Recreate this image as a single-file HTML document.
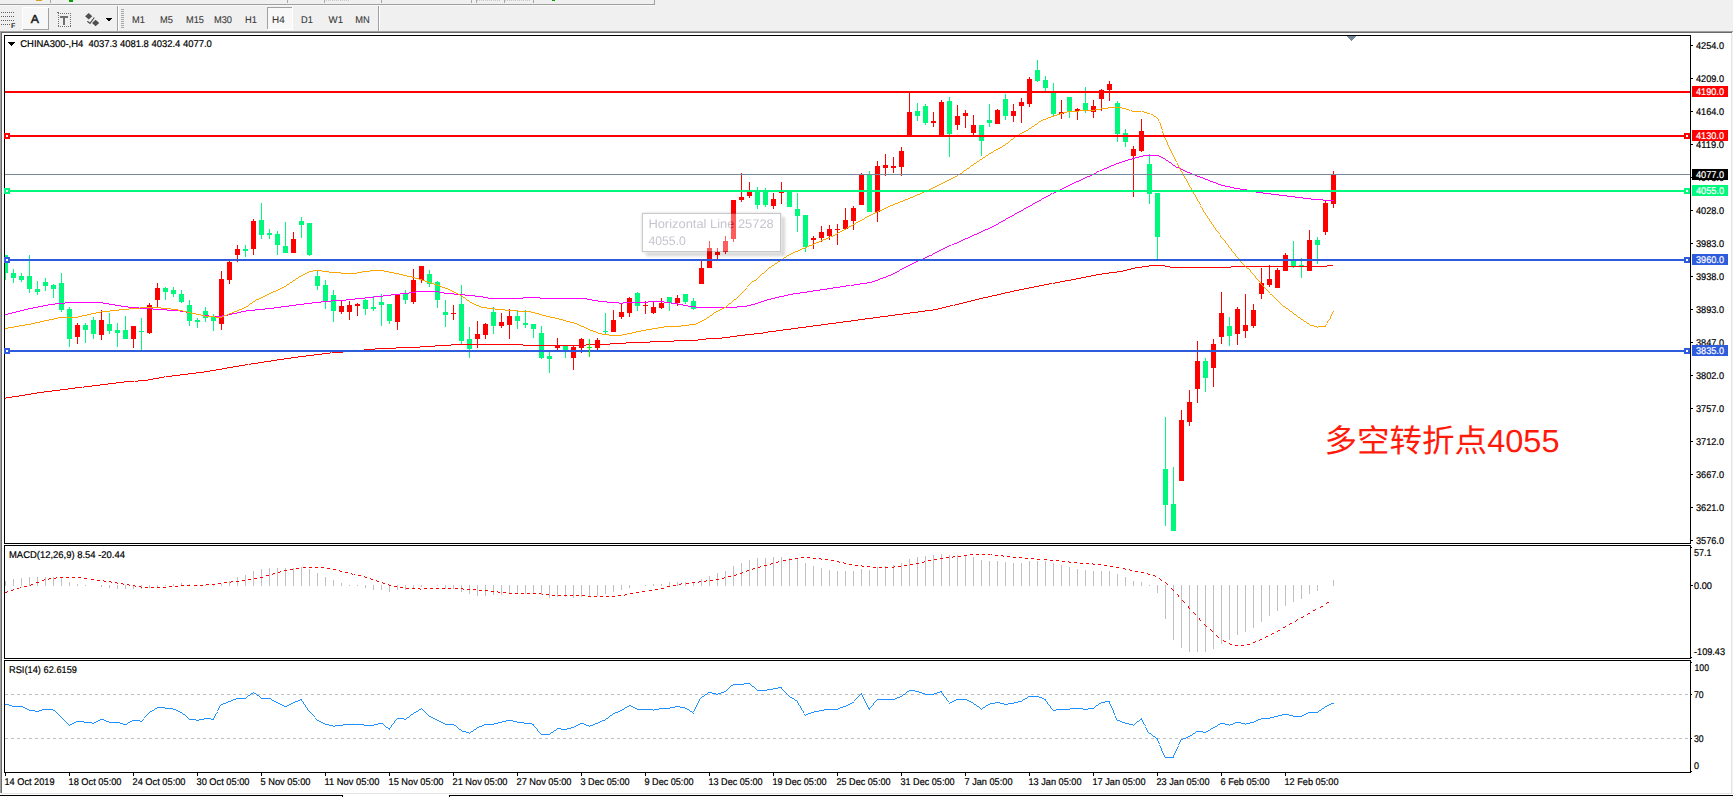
<!DOCTYPE html>
<html><head><meta charset="utf-8"><title>CHINA300-,H4</title>
<style>
html,body{margin:0;padding:0;background:#fff;overflow:hidden}
svg{display:block;font-family:"Liberation Sans","Noto Sans CJK SC",sans-serif;text-rendering:geometricPrecision}
svg rect,svg path,svg polyline,svg line{shape-rendering:crispEdges}
</style></head><body>
<svg width="1733" height="797" viewBox="0 0 1733 797">
<defs><filter id="bl" x="-10%" y="-30%" width="120%" height="160%"><feGaussianBlur stdDeviation="1.8"/></filter><clipPath id="tc"><path d="M630 200h170v70h-170z M642 213v39h139v-39z" clip-rule="evenodd"/></clipPath></defs>
<rect x="0" y="0" width="1733" height="797" fill="#fff"/>
<rect x="0" y="0" width="1733" height="31" fill="#f0f0f0"/>
<rect x="0" y="4" width="655" height="1" fill="#a0a0a0"/>
<rect x="0" y="5" width="655" height="1" fill="#f8f8f8"/>
<rect x="654" y="0" width="1" height="5" fill="#a0a0a0"/>
<rect x="69" y="0" width="4" height="2" fill="#00a000"/>
<rect x="552" y="0" width="3" height="1" fill="#00a000"/>
<rect x="50" y="0" width="1" height="3" fill="#a8a8a8"/>
<rect x="287" y="0" width="1" height="3" fill="#a8a8a8"/>
<rect x="324" y="0" width="1" height="3" fill="#a8a8a8"/>
<rect x="381" y="0" width="1" height="3" fill="#a8a8a8"/>
<rect x="471" y="0" width="1" height="3" fill="#a8a8a8"/>
<rect x="476" y="0" width="1" height="3" fill="#a8a8a8"/>
<rect x="504" y="0" width="1" height="3" fill="#a8a8a8"/>
<rect x="533" y="0" width="1" height="3" fill="#a8a8a8"/>
<rect x="326" y="0" width="1" height="1" fill="#c8c8c8"/>
<rect x="328" y="0" width="1" height="1" fill="#c8c8c8"/>
<rect x="330" y="0" width="1" height="1" fill="#c8c8c8"/>
<rect x="332" y="0" width="1" height="1" fill="#c8c8c8"/>
<rect x="334" y="0" width="1" height="1" fill="#c8c8c8"/>
<rect x="336" y="0" width="1" height="1" fill="#c8c8c8"/>
<rect x="338" y="0" width="1" height="1" fill="#c8c8c8"/>
<rect x="340" y="0" width="1" height="1" fill="#c8c8c8"/>
<rect x="342" y="0" width="1" height="1" fill="#c8c8c8"/>
<rect x="344" y="0" width="1" height="1" fill="#c8c8c8"/>
<rect x="346" y="0" width="1" height="1" fill="#c8c8c8"/>
<rect x="348" y="0" width="1" height="1" fill="#c8c8c8"/>
<rect x="477" y="0" width="1" height="1" fill="#c8c8c8"/>
<rect x="479" y="0" width="1" height="1" fill="#c8c8c8"/>
<rect x="481" y="0" width="1" height="1" fill="#c8c8c8"/>
<rect x="483" y="0" width="1" height="1" fill="#c8c8c8"/>
<rect x="485" y="0" width="1" height="1" fill="#c8c8c8"/>
<rect x="487" y="0" width="1" height="1" fill="#c8c8c8"/>
<rect x="489" y="0" width="1" height="1" fill="#c8c8c8"/>
<rect x="491" y="0" width="1" height="1" fill="#c8c8c8"/>
<rect x="493" y="0" width="1" height="1" fill="#c8c8c8"/>
<rect x="495" y="0" width="1" height="1" fill="#c8c8c8"/>
<rect x="497" y="0" width="1" height="1" fill="#c8c8c8"/>
<rect x="499" y="0" width="1" height="1" fill="#c8c8c8"/>
<rect x="505" y="0" width="1" height="1" fill="#c8c8c8"/>
<rect x="507" y="0" width="1" height="1" fill="#c8c8c8"/>
<rect x="509" y="0" width="1" height="1" fill="#c8c8c8"/>
<rect x="511" y="0" width="1" height="1" fill="#c8c8c8"/>
<rect x="513" y="0" width="1" height="1" fill="#c8c8c8"/>
<rect x="515" y="0" width="1" height="1" fill="#c8c8c8"/>
<rect x="517" y="0" width="1" height="1" fill="#c8c8c8"/>
<rect x="519" y="0" width="1" height="1" fill="#c8c8c8"/>
<rect x="521" y="0" width="1" height="1" fill="#c8c8c8"/>
<rect x="523" y="0" width="1" height="1" fill="#c8c8c8"/>
<rect x="525" y="0" width="1" height="1" fill="#c8c8c8"/>
<rect x="527" y="0" width="1" height="1" fill="#c8c8c8"/>
<rect x="529" y="0" width="1" height="1" fill="#c8c8c8"/>
<rect x="36" y="0" width="6" height="1" fill="#d8a020"/>
<rect x="0" y="31" width="1733" height="1" fill="#a0a0a0"/>
<rect x="1" y="32" width="1731" height="1" fill="#696969"/>
<rect x="0" y="31" width="1" height="762" fill="#a0a0a0"/>
<rect x="1" y="32" width="1" height="761" fill="#696969"/>
<rect x="1731" y="33" width="1" height="761" fill="#e3e3e3"/>
<rect x="2" y="793" width="1730" height="1" fill="#e3e3e3"/>
<rect x="1732" y="32" width="1" height="765" fill="#f4f4f4"/>
<rect x="0" y="795" width="343" height="1" fill="#000"/>
<rect x="342" y="795" width="1" height="2" fill="#000"/>
<rect x="449" y="795" width="1284" height="1" fill="#000"/>
<rect x="449" y="795" width="1" height="2" fill="#000"/>
<rect x="1" y="12" width="1" height="1" fill="#606060"/>
<rect x="3" y="12" width="1" height="1" fill="#606060"/>
<rect x="5" y="12" width="1" height="1" fill="#606060"/>
<rect x="7" y="12" width="1" height="1" fill="#606060"/>
<rect x="9" y="12" width="1" height="1" fill="#606060"/>
<rect x="11" y="12" width="1" height="1" fill="#606060"/>
<rect x="13" y="12" width="1" height="1" fill="#606060"/>
<rect x="1" y="16" width="1" height="1" fill="#606060"/>
<rect x="3" y="16" width="1" height="1" fill="#606060"/>
<rect x="5" y="16" width="1" height="1" fill="#606060"/>
<rect x="7" y="16" width="1" height="1" fill="#606060"/>
<rect x="9" y="16" width="1" height="1" fill="#606060"/>
<rect x="11" y="16" width="1" height="1" fill="#606060"/>
<rect x="13" y="16" width="1" height="1" fill="#606060"/>
<rect x="1" y="20" width="1" height="1" fill="#606060"/>
<rect x="3" y="20" width="1" height="1" fill="#606060"/>
<rect x="5" y="20" width="1" height="1" fill="#606060"/>
<rect x="7" y="20" width="1" height="1" fill="#606060"/>
<rect x="9" y="20" width="1" height="1" fill="#606060"/>
<rect x="11" y="20" width="1" height="1" fill="#606060"/>
<rect x="13" y="20" width="1" height="1" fill="#606060"/>
<rect x="1" y="24" width="1" height="1" fill="#606060"/>
<rect x="3" y="24" width="1" height="1" fill="#606060"/>
<rect x="5" y="24" width="1" height="1" fill="#606060"/>
<rect x="7" y="24" width="1" height="1" fill="#606060"/>
<rect x="9" y="24" width="1" height="1" fill="#606060"/>
<text x="11" y="28" font-size="7" fill="#303030" font-weight="bold">F</text>
<rect x="23" y="8" width="26" height="22" fill="#f7f7f7"/>
<rect x="23" y="29" width="26" height="1" fill="#a0a0a0"/>
<rect x="48" y="8" width="1" height="22" fill="#a0a0a0"/>
<rect x="23" y="7" width="26" height="1" fill="#fff"/>
<rect x="22" y="8" width="1" height="22" fill="#fff"/>
<text x="30.8" y="22.6" font-size="11.5" fill="#1a1a1a" stroke="#1a1a1a" stroke-width="0.45" textLength="8.2" lengthAdjust="spacingAndGlyphs">A</text>
<rect x="58" y="13" width="1" height="1" fill="#707070"/>
<rect x="58" y="26" width="1" height="1" fill="#707070"/>
<rect x="60" y="13" width="1" height="1" fill="#707070"/>
<rect x="60" y="26" width="1" height="1" fill="#707070"/>
<rect x="62" y="13" width="1" height="1" fill="#707070"/>
<rect x="62" y="26" width="1" height="1" fill="#707070"/>
<rect x="64" y="13" width="1" height="1" fill="#707070"/>
<rect x="64" y="26" width="1" height="1" fill="#707070"/>
<rect x="66" y="13" width="1" height="1" fill="#707070"/>
<rect x="66" y="26" width="1" height="1" fill="#707070"/>
<rect x="68" y="13" width="1" height="1" fill="#707070"/>
<rect x="68" y="26" width="1" height="1" fill="#707070"/>
<rect x="70" y="13" width="1" height="1" fill="#707070"/>
<rect x="70" y="26" width="1" height="1" fill="#707070"/>
<rect x="58" y="13" width="1" height="1" fill="#707070"/>
<rect x="70" y="13" width="1" height="1" fill="#707070"/>
<rect x="58" y="15" width="1" height="1" fill="#707070"/>
<rect x="70" y="15" width="1" height="1" fill="#707070"/>
<rect x="58" y="17" width="1" height="1" fill="#707070"/>
<rect x="70" y="17" width="1" height="1" fill="#707070"/>
<rect x="58" y="19" width="1" height="1" fill="#707070"/>
<rect x="70" y="19" width="1" height="1" fill="#707070"/>
<rect x="58" y="21" width="1" height="1" fill="#707070"/>
<rect x="70" y="21" width="1" height="1" fill="#707070"/>
<rect x="58" y="23" width="1" height="1" fill="#707070"/>
<rect x="70" y="23" width="1" height="1" fill="#707070"/>
<rect x="58" y="25" width="1" height="1" fill="#707070"/>
<rect x="70" y="25" width="1" height="1" fill="#707070"/>
<rect x="57" y="12" width="2" height="1" fill="#707070"/>
<rect x="60" y="16" width="8" height="2" fill="#707070"/>
<rect x="63" y="16" width="2" height="9" fill="#707070"/>
<path d="M88.7 13 L92.3 16.2 L88.7 19.4 L85.1 16.2Z M95.6 19.8 L99.2 23 L95.6 26.2 L92 23Z" fill="#505050" style="shape-rendering:auto"/>
<path d="M87.3 21.3 L90 23.3 L94.3 17.5" fill="none" stroke="#505050" stroke-width="1.2" style="shape-rendering:auto"/>
<path d="M106 18 L112 18 L109 21.5Z" fill="#000"/>
<rect x="117" y="6" width="1" height="25" fill="#a0a0a0"/>
<rect x="118" y="6" width="1" height="25" fill="#fff"/>
<rect x="121" y="9" width="3" height="1" fill="#a8a8a8"/>
<rect x="121" y="11" width="3" height="1" fill="#a8a8a8"/>
<rect x="121" y="13" width="3" height="1" fill="#a8a8a8"/>
<rect x="121" y="15" width="3" height="1" fill="#a8a8a8"/>
<rect x="121" y="17" width="3" height="1" fill="#a8a8a8"/>
<rect x="121" y="19" width="3" height="1" fill="#a8a8a8"/>
<rect x="121" y="21" width="3" height="1" fill="#a8a8a8"/>
<rect x="121" y="23" width="3" height="1" fill="#a8a8a8"/>
<rect x="121" y="25" width="3" height="1" fill="#a8a8a8"/>
<rect x="121" y="27" width="3" height="1" fill="#a8a8a8"/>
<text x="132.0" y="23" font-size="9.8" fill="#383838" stroke="#383838" stroke-width="0.1" textLength="12.9" lengthAdjust="spacingAndGlyphs">M1</text>
<text x="160.1" y="23" font-size="9.8" fill="#383838" stroke="#383838" stroke-width="0.1" textLength="12.9" lengthAdjust="spacingAndGlyphs">M5</text>
<text x="186.0" y="23" font-size="9.8" fill="#383838" stroke="#383838" stroke-width="0.1" textLength="17.9" lengthAdjust="spacingAndGlyphs">M15</text>
<text x="213.9" y="23" font-size="9.8" fill="#383838" stroke="#383838" stroke-width="0.1" textLength="18.1" lengthAdjust="spacingAndGlyphs">M30</text>
<text x="245.1" y="23" font-size="9.8" fill="#383838" stroke="#383838" stroke-width="0.1" textLength="11.9" lengthAdjust="spacingAndGlyphs">H1</text>
<rect x="267" y="7" width="26" height="23" fill="#f8f8f8"/>
<rect x="267" y="7" width="26" height="1" fill="#a0a0a0"/>
<rect x="267" y="7" width="1" height="23" fill="#a0a0a0"/>
<rect x="267" y="29" width="26" height="1" fill="#fff"/>
<rect x="292" y="7" width="1" height="23" fill="#fff"/>
<text x="272.1" y="23" font-size="9.8" fill="#383838" stroke="#383838" stroke-width="0.1" textLength="12.6" lengthAdjust="spacingAndGlyphs">H4</text>
<text x="301.1" y="23" font-size="9.8" fill="#383838" stroke="#383838" stroke-width="0.1" textLength="11.8" lengthAdjust="spacingAndGlyphs">D1</text>
<text x="328.6" y="23" font-size="9.8" fill="#383838" stroke="#383838" stroke-width="0.1" textLength="14.5" lengthAdjust="spacingAndGlyphs">W1</text>
<text x="355.3" y="23" font-size="9.8" fill="#383838" stroke="#383838" stroke-width="0.1" textLength="14.5" lengthAdjust="spacingAndGlyphs">MN</text>
<rect x="378" y="6" width="1" height="25" fill="#a0a0a0"/>
<rect x="379" y="6" width="1" height="25" fill="#fff"/>
<rect x="4" y="35" width="1687" height="1" fill="#000"/>
<rect x="4" y="543" width="1687" height="1" fill="#000"/>
<rect x="4" y="35" width="1" height="509" fill="#000"/>
<rect x="1690" y="35" width="1" height="509" fill="#000"/>
<rect x="4" y="545" width="1687" height="1" fill="#000"/>
<rect x="4" y="658" width="1687" height="1" fill="#000"/>
<rect x="4" y="545" width="1" height="114" fill="#000"/>
<rect x="1690" y="545" width="1" height="114" fill="#000"/>
<rect x="4" y="660" width="1687" height="1" fill="#000"/>
<rect x="4" y="772" width="1687" height="1" fill="#000"/>
<rect x="4" y="660" width="1" height="113" fill="#000"/>
<rect x="1690" y="660" width="1" height="113" fill="#000"/>
<path d="M5 255h1v25h-1zM5 255h3v18h-3zM13 269h1v14h-1zM11 273h5v5h-5zM21 273h1v9h-1zM19 276h5v4h-5zM29 255h1v38h-1zM27 276h5v13h-5zM37 281h1v14h-1zM35 289h5v3h-5zM45 278h1v13h-1zM43 282h5v4h-5zM53 284h1v14h-1zM51 285h5v4h-5zM61 273h1v39h-1zM59 283h5v27h-5zM69 307h1v40h-1zM67 309h5v30h-5zM85 323h1v20h-1zM83 325h5v5h-5zM93 317h1v22h-1zM91 320h5v14h-5zM109 313h1v21h-1zM107 324h5v7h-5zM117 323h1v24h-1zM115 330h5v3h-5zM125 316h1v23h-1zM123 330h5v9h-5zM141 318h1v32h-1zM139 331h5v1h-5zM165 287h1v13h-1zM163 288h5v4h-5zM173 287h1v10h-1zM171 290h5v4h-5zM181 290h1v13h-1zM179 294h5v8h-5zM189 300h1v26h-1zM187 305h5v16h-5zM197 318h1v10h-1zM195 320h5v2h-5zM205 307h1v15h-1zM203 311h5v7h-5zM213 314h1v17h-1zM211 317h5v4h-5zM245 245h1v12h-1zM243 249h5v2h-5zM261 203h1v36h-1zM259 220h5v15h-5zM269 229h1v10h-1zM267 233h5v2h-5zM277 231h1v24h-1zM275 234h5v11h-5zM285 222h1v31h-1zM283 246h5v7h-5zM301 217h1v21h-1zM299 221h5v4h-5zM309 223h1v33h-1zM307 223h5v32h-5zM317 271h1v19h-1zM315 276h5v10h-5zM325 280h1v29h-1zM323 285h5v16h-5zM333 290h1v32h-1zM331 295h5v16h-5zM365 299h1v16h-1zM363 300h5v9h-5zM373 296h1v15h-1zM371 307h5v2h-5zM381 294h1v32h-1zM379 302h5v3h-5zM389 304h1v20h-1zM387 304h5v17h-5zM405 290h1v14h-1zM403 294h5v6h-5zM429 270h1v17h-1zM427 274h5v10h-5zM437 281h1v27h-1zM435 282h5v18h-5zM445 300h1v27h-1zM443 312h5v3h-5zM461 285h1v60h-1zM459 304h5v37h-5zM469 327h1v31h-1zM467 339h5v10h-5zM493 307h1v27h-1zM491 312h5v14h-5zM517 311h1v18h-1zM515 316h5v5h-5zM525 310h1v18h-1zM523 323h5v2h-5zM533 324h1v14h-1zM531 324h5v5h-5zM541 326h1v33h-1zM539 333h5v25h-5zM549 352h1v21h-1zM547 356h5v3h-5zM565 346h1v12h-1zM563 346h5v4h-5zM605 313h1v21h-1zM603 331h5v1h-5zM637 292h1v19h-1zM635 293h5v13h-5zM669 297h1v14h-1zM667 297h5v6h-5zM685 294h1v10h-1zM683 294h5v8h-5zM693 298h1v12h-1zM691 301h5v8h-5zM757 187h1v22h-1zM755 192h5v13h-5zM765 188h1v19h-1zM763 192h5v13h-5zM789 190h1v17h-1zM787 190h5v17h-5zM797 193h1v39h-1zM795 209h5v7h-5zM805 215h1v37h-1zM803 215h5v32h-5zM869 171h1v41h-1zM867 175h5v37h-5zM917 103h1v18h-1zM915 111h5v5h-5zM925 104h1v21h-1zM923 106h5v17h-5zM949 97h1v60h-1zM947 101h5v33h-5zM981 125h1v31h-1zM979 125h5v16h-5zM989 104h1v23h-1zM987 120h5v3h-5zM1005 94h1v26h-1zM1003 99h5v17h-5zM1037 60h1v22h-1zM1035 70h5v11h-5zM1045 76h1v15h-1zM1043 80h5v8h-5zM1053 83h1v33h-1zM1051 93h5v21h-5zM1069 97h1v21h-1zM1067 97h5v14h-5zM1085 87h1v26h-1zM1083 103h5v8h-5zM1117 101h1v41h-1zM1115 103h5v31h-5zM1125 129h1v18h-1zM1123 133h5v9h-5zM1149 154h1v50h-1zM1147 164h5v30h-5zM1157 193h1v66h-1zM1155 193h5v44h-5zM1165 417h1v109h-1zM1163 469h5v36h-5zM1173 467h1v64h-1zM1171 504h5v27h-5zM1205 358h1v34h-1zM1203 361h5v17h-5zM1229 317h1v29h-1zM1227 326h5v10h-5zM1293 241h1v27h-1zM1291 261h5v5h-5zM1301 258h1v20h-1zM1299 265h5v1h-5zM1317 237h1v27h-1zM1315 240h5v5h-5z" fill="#00F97C"/>
<path d="M77 323h1v21h-1zM75 325h5v12h-5zM101 310h1v30h-1zM99 320h5v15h-5zM133 326h1v22h-1zM131 326h5v13h-5zM149 303h1v31h-1zM147 305h5v28h-5zM157 283h1v25h-1zM155 288h5v12h-5zM221 271h1v59h-1zM219 279h5v45h-5zM229 261h1v23h-1zM227 262h5v18h-5zM237 245h1v17h-1zM235 249h5v6h-5zM253 219h1v36h-1zM251 221h5v28h-5zM293 232h1v21h-1zM291 239h5v14h-5zM341 301h1v13h-1zM339 306h5v6h-5zM349 301h1v19h-1zM347 305h5v7h-5zM357 303h1v13h-1zM355 304h5v2h-5zM397 295h1v35h-1zM395 295h5v27h-5zM413 269h1v35h-1zM411 280h5v22h-5zM421 266h1v17h-1zM419 266h5v14h-5zM453 305h1v15h-1zM451 313h5v1h-5zM477 321h1v27h-1zM475 334h5v5h-5zM485 323h1v16h-1zM483 324h5v11h-5zM501 313h1v15h-1zM499 322h5v4h-5zM509 309h1v30h-1zM507 316h5v9h-5zM557 338h1v12h-1zM555 345h5v3h-5zM573 346h1v24h-1zM571 347h5v11h-5zM581 338h1v15h-1zM579 339h5v9h-5zM597 338h1v12h-1zM595 340h5v8h-5zM613 310h1v22h-1zM611 320h5v12h-5zM621 304h1v15h-1zM619 312h5v5h-5zM629 297h1v20h-1zM627 298h5v15h-5zM645 301h1v13h-1zM643 305h5v1h-5zM653 302h1v12h-1zM651 307h5v6h-5zM661 298h1v11h-1zM659 303h5v5h-5zM677 295h1v11h-1zM675 298h5v5h-5zM701 261h1v23h-1zM699 268h5v16h-5zM709 241h1v27h-1zM707 248h5v20h-5zM717 248h1v11h-1zM715 252h5v3h-5zM725 236h1v18h-1zM723 241h5v11h-5zM733 200h1v42h-1zM731 200h5v39h-5zM741 173h1v29h-1zM739 197h5v3h-5zM749 182h1v16h-1zM747 191h5v5h-5zM773 193h1v16h-1zM771 199h5v7h-5zM781 182h1v22h-1zM779 192h5v1h-5zM813 236h1v13h-1zM811 238h5v2h-5zM821 226h1v16h-1zM819 232h5v6h-5zM829 225h1v15h-1zM827 229h5v7h-5zM837 224h1v21h-1zM835 229h5v1h-5zM845 208h1v22h-1zM843 220h5v9h-5zM853 206h1v24h-1zM851 208h5v13h-5zM861 173h1v32h-1zM859 174h5v31h-5zM877 161h1v61h-1zM875 166h5v46h-5zM885 154h1v22h-1zM883 165h5v3h-5zM893 157h1v16h-1zM891 166h5v2h-5zM901 147h1v29h-1zM899 151h5v16h-5zM909 92h1v44h-1zM907 112h5v24h-5zM933 112h1v15h-1zM931 121h5v2h-5zM941 100h1v36h-1zM939 102h5v34h-5zM957 105h1v25h-1zM955 116h5v9h-5zM965 110h1v18h-1zM963 113h5v3h-5zM973 115h1v20h-1zM971 125h5v8h-5zM997 109h1v15h-1zM995 110h5v14h-5zM1013 104h1v18h-1zM1011 111h5v5h-5zM1021 98h1v25h-1zM1019 102h5v4h-5zM1029 77h1v30h-1zM1027 79h5v25h-5zM1061 100h1v19h-1zM1059 112h5v2h-5zM1077 108h1v12h-1zM1075 109h5v2h-5zM1093 100h1v18h-1zM1091 106h5v6h-5zM1101 89h1v22h-1zM1099 90h5v9h-5zM1109 81h1v20h-1zM1107 84h5v6h-5zM1133 146h1v51h-1zM1131 149h5v7h-5zM1141 119h1v33h-1zM1139 131h5v20h-5zM1181 410h1v71h-1zM1179 420h5v61h-5zM1189 390h1v36h-1zM1187 402h5v20h-5zM1197 341h1v62h-1zM1195 361h5v28h-5zM1213 339h1v48h-1zM1211 344h5v24h-5zM1221 292h1v52h-1zM1219 313h5v24h-5zM1237 307h1v38h-1zM1235 309h5v25h-5zM1245 294h1v44h-1zM1243 325h5v6h-5zM1253 304h1v24h-1zM1251 310h5v16h-5zM1261 268h1v31h-1zM1259 283h5v11h-5zM1269 265h1v22h-1zM1267 279h5v6h-5zM1277 268h1v20h-1zM1275 270h5v18h-5zM1285 253h1v18h-1zM1283 255h5v16h-5zM1309 230h1v41h-1zM1307 240h5v31h-5zM1325 201h1v34h-1zM1323 203h5v29h-5zM1333 171h1v37h-1zM1331 174h5v30h-5z" fill="#FF0000"/>
<path d="M5 398h1v1h-1zM6 397h6v1h-6zM12 396h7v1h-7zM19 395h6v1h-6zM25 394h6v1h-6zM31 393h6v1h-6zM37 392h7v1h-7zM44 391h8v1h-8zM52 390h8v1h-8zM60 389h8v1h-8zM68 388h7v1h-7zM75 387h7v1h-7zM83 387h1v1h-1zM84 386h8v1h-8zM92 385h8v1h-8zM100 384h8v1h-8zM108 383h8v1h-8zM116 382h8v1h-8zM124 381h10v1h-10zM135 381h3v1h-3zM138 380h10v1h-10zM148 379h5v1h-5zM153 378h6v1h-6zM159 377h5v1h-5zM164 376h1v1h-1zM166 376h6v1h-6zM172 375h8v1h-8zM180 374h8v1h-8zM188 373h8v1h-8zM196 372h8v1h-8zM204 371h6v1h-6zM210 370h6v1h-6zM216 369h6v1h-6zM222 368h5v1h-5zM227 367h6v1h-6zM233 366h6v1h-6zM239 365h6v1h-6zM245 364h3v1h-3zM249 364h2v1h-2zM251 363h7v1h-7zM258 362h6v1h-6zM264 361h7v1h-7zM271 360h6v1h-6zM277 359h7v1h-7zM284 358h7v1h-7zM291 357h7v1h-7zM298 356h8v1h-8zM306 355h8v1h-8zM314 354h8v1h-8zM322 353h8v1h-8zM330 352h1v1h-1zM332 352h11v1h-11zM343 351h11v1h-11zM354 350h10v1h-10zM364 349h11v1h-11zM375 348h21v1h-21zM396 347h24v1h-24zM420 346h15v1h-15zM435 345h16v1h-16zM523 345h63v1h-63zM451 344h72v1h-72zM586 344h24v1h-24zM610 343h16v1h-16zM626 342h24v1h-24zM650 341h24v1h-24zM674 340h24v1h-24zM698 339h8v1h-8zM706 338h16v1h-16zM722 337h8v1h-8zM730 336h7v1h-7zM737 335h8v1h-8zM745 334h9v1h-9zM754 333h9v1h-9zM763 332h5v1h-5zM768 331h8v1h-8zM776 330h7v1h-7zM783 329h8v1h-8zM791 328h7v1h-7zM798 327h8v1h-8zM806 326h7v1h-7zM813 325h8v1h-8zM821 324h7v1h-7zM828 323h8v1h-8zM836 322h7v1h-7zM843 321h8v1h-8zM851 320h7v1h-7zM858 319h7v1h-7zM865 318h8v1h-8zM873 317h7v1h-7zM880 316h8v1h-8zM888 315h7v1h-7zM895 314h8v1h-8zM903 313h7v1h-7zM910 312h8v1h-8zM918 311h7v1h-7zM925 310h8v1h-8zM933 309h5v1h-5zM938 308h4v1h-4zM942 307h4v1h-4zM946 306h4v1h-4zM950 305h3v1h-3zM954 305h1v1h-1zM955 304h4v1h-4zM959 303h4v1h-4zM963 302h4v1h-4zM967 301h4v1h-4zM971 300h4v1h-4zM975 299h4v1h-4zM979 298h4v1h-4zM983 297h5v1h-5zM988 296h4v1h-4zM992 295h5v1h-5zM997 294h4v1h-4zM1001 293h4v1h-4zM1005 292h5v1h-5zM1010 291h4v1h-4zM1014 290h5v1h-5zM1019 289h5v1h-5zM1024 288h5v1h-5zM1029 287h5v1h-5zM1034 286h5v1h-5zM1039 285h5v1h-5zM1044 284h5v1h-5zM1049 283h3v1h-3zM1053 283h2v1h-2zM1055 282h5v1h-5zM1060 281h5v1h-5zM1065 280h6v1h-6zM1071 279h5v1h-5zM1076 278h5v1h-5zM1081 277h5v1h-5zM1086 276h5v1h-5zM1091 275h5v1h-5zM1096 274h6v1h-6zM1102 273h7v1h-7zM1109 272h8v1h-8zM1117 271h6v1h-6zM1123 270h4v1h-4zM1127 269h4v1h-4zM1131 268h4v1h-4zM1135 267h7v1h-7zM1170 267h61v1h-61zM1142 266h7v1h-7zM1165 266h5v1h-5zM1231 266h96v1h-96zM1149 265h16v1h-16zM1327 265h6v1h-6z" fill="#FF0000"/>
<path d="M5 314h3v1h-3zM196 314h5v1h-5zM228 314h4v1h-4zM8 313h4v1h-4zM191 313h5v1h-5zM232 313h5v1h-5zM12 312h4v1h-4zM186 312h5v1h-5zM237 312h4v1h-4zM16 311h4v1h-4zM180 311h6v1h-6zM241 311h5v1h-5zM20 310h4v1h-4zM167 310h13v1h-13zM246 310h9v1h-9zM24 309h4v1h-4zM153 309h14v1h-14zM255 309h10v1h-10zM28 308h5v1h-5zM139 308h10v1h-10zM150 308h3v1h-3zM265 308h9v1h-9zM33 307h5v1h-5zM128 307h11v1h-11zM274 307h7v1h-7zM696 307h41v1h-41zM38 306h5v1h-5zM121 306h7v1h-7zM281 306h8v1h-8zM688 306h8v1h-8zM737 306h10v1h-10zM43 305h5v1h-5zM115 305h6v1h-6zM289 305h7v1h-7zM683 305h5v1h-5zM747 305h4v1h-4zM48 304h7v1h-7zM109 304h6v1h-6zM296 304h8v1h-8zM678 304h5v1h-5zM751 304h4v1h-4zM55 303h10v1h-10zM103 303h6v1h-6zM304 303h8v1h-8zM619 303h4v1h-4zM671 303h7v1h-7zM755 303h3v1h-3zM65 302h38v1h-38zM312 302h9v1h-9zM607 302h12v1h-12zM623 302h25v1h-25zM664 302h7v1h-7zM758 302h3v1h-3zM201 315h8v1h-8zM222 315h6v1h-6zM209 316h13v1h-13zM321 301h10v1h-10zM598 301h9v1h-9zM648 301h16v1h-16zM761 301h3v1h-3zM331 300h15v1h-15zM592 300h6v1h-6zM764 300h3v1h-3zM346 299h9v1h-9zM587 299h5v1h-5zM767 299h4v1h-4zM355 298h10v1h-10zM488 298h35v1h-35zM540 298h47v1h-47zM771 298h4v1h-4zM365 297h9v1h-9zM483 297h5v1h-5zM523 297h17v1h-17zM775 297h4v1h-4zM374 296h9v1h-9zM475 296h8v1h-8zM779 296h5v1h-5zM383 295h8v1h-8zM465 295h10v1h-10zM784 295h4v1h-4zM391 294h9v1h-9zM454 294h11v1h-11zM788 294h5v1h-5zM400 293h9v1h-9zM444 293h10v1h-10zM793 293h7v1h-7zM409 292h7v1h-7zM439 292h5v1h-5zM800 292h7v1h-7zM416 291h23v1h-23zM807 291h6v1h-6zM813 290h7v1h-7zM820 289h7v1h-7zM827 288h6v1h-6zM833 287h7v1h-7zM840 286h6v1h-6zM846 285h4v1h-4zM851 285h3v1h-3zM854 284h6v1h-6zM860 283h7v1h-7zM867 282h5v1h-5zM872 281h3v1h-3zM875 280h3v1h-3zM878 279h2v1h-2zM880 278h3v1h-3zM883 277h3v1h-3zM886 276h2v1h-2zM888 275h3v1h-3zM891 274h2v1h-2zM893 273h2v1h-2zM895 272h2v1h-2zM897 271h2v1h-2zM899 270h1v1h-1zM900 269h2v1h-2zM902 268h2v1h-2zM904 267h2v1h-2zM906 266h2v1h-2zM908 265h2v1h-2zM910 264h2v1h-2zM912 263h2v1h-2zM914 262h2v1h-2zM916 261h2v1h-2zM918 260h3v1h-3zM921 259h2v1h-2zM923 258h2v1h-2zM925 257h2v1h-2zM927 256h2v1h-2zM929 255h3v1h-3zM932 254h1v1h-1zM933 253h2v1h-2zM935 252h2v1h-2zM937 251h2v1h-2zM939 250h2v1h-2zM941 249h2v1h-2zM943 248h2v1h-2zM945 247h2v1h-2zM947 246h2v1h-2zM949 245h2v1h-2zM952 244h2v1h-2zM954 243h3v1h-3zM957 242h2v1h-2zM959 241h2v1h-2zM961 240h2v1h-2zM963 239h2v1h-2zM965 238h3v1h-3zM968 237h2v1h-2zM970 236h2v1h-2zM972 235h2v1h-2zM974 234h3v1h-3zM977 233h2v1h-2zM979 232h2v1h-2zM981 231h2v1h-2zM983 230h2v1h-2zM985 229h3v1h-3zM988 228h2v1h-2zM990 227h2v1h-2zM992 226h2v1h-2zM994 225h2v1h-2zM996 224h2v1h-2zM998 223h1v1h-1zM999 222h2v1h-2zM1001 221h2v1h-2zM1003 220h2v1h-2zM1005 219h1v1h-1zM1006 218h2v1h-2zM1008 217h2v1h-2zM1010 216h2v1h-2zM1012 215h2v1h-2zM1014 214h1v1h-1zM1015 213h2v1h-2zM1017 212h2v1h-2zM1019 211h2v1h-2zM1021 210h2v1h-2zM1023 209h1v1h-1zM1024 208h2v1h-2zM1026 207h2v1h-2zM1028 206h2v1h-2zM1030 205h2v1h-2zM1032 204h1v1h-1zM1033 203h2v1h-2zM1035 202h2v1h-2zM1037 201h2v1h-2zM1039 200h2v1h-2zM1323 200h11v1h-11zM1041 199h1v1h-1zM1311 199h12v1h-12zM1042 198h2v1h-2zM1303 198h8v1h-8zM1044 197h2v1h-2zM1295 197h8v1h-8zM1046 196h2v1h-2zM1287 196h8v1h-8zM1048 195h2v1h-2zM1279 195h8v1h-8zM1050 194h1v1h-1zM1271 194h8v1h-8zM1051 193h1v1h-1zM1053 193h1v1h-1zM1263 193h8v1h-8zM1054 192h2v1h-2zM1256 192h7v1h-7zM1056 191h2v1h-2zM1252 191h4v1h-4zM1058 190h2v1h-2zM1247 190h5v1h-5zM1060 189h2v1h-2zM1240 189h7v1h-7zM1062 188h2v1h-2zM1234 188h6v1h-6zM1064 187h2v1h-2zM1230 187h4v1h-4zM1066 186h2v1h-2zM1225 186h5v1h-5zM1068 185h2v1h-2zM1221 185h4v1h-4zM1070 184h2v1h-2zM1218 184h3v1h-3zM1072 183h2v1h-2zM1216 183h2v1h-2zM1074 182h2v1h-2zM1213 182h3v1h-3zM1076 181h3v1h-3zM1210 181h3v1h-3zM1079 180h2v1h-2zM1208 180h2v1h-2zM1081 179h2v1h-2zM1205 179h3v1h-3zM1083 178h2v1h-2zM1203 178h2v1h-2zM1085 177h2v1h-2zM1200 177h3v1h-3zM1087 176h3v1h-3zM1197 176h3v1h-3zM1090 175h2v1h-2zM1195 175h2v1h-2zM1092 174h2v1h-2zM1192 174h3v1h-3zM1094 173h2v1h-2zM1190 173h2v1h-2zM1096 172h1v1h-1zM1187 172h3v1h-3zM1097 171h2v1h-2zM1185 171h2v1h-2zM1100 170h2v1h-2zM1183 170h2v1h-2zM1102 169h2v1h-2zM1181 169h2v1h-2zM1104 168h3v1h-3zM1179 168h2v1h-2zM1107 167h2v1h-2zM1176 167h3v1h-3zM1109 166h2v1h-2zM1175 166h1v1h-1zM1111 165h3v1h-3zM1173 165h2v1h-2zM1114 164h2v1h-2zM1172 164h1v1h-1zM1116 163h3v1h-3zM1171 163h1v1h-1zM1119 162h3v1h-3zM1169 162h2v1h-2zM1122 161h3v1h-3zM1168 161h1v1h-1zM1125 160h3v1h-3zM1166 160h2v1h-2zM1128 159h4v1h-4zM1165 159h1v1h-1zM1132 158h3v1h-3zM1163 158h2v1h-2zM1135 157h4v1h-4zM1161 157h2v1h-2zM1139 156h4v1h-4zM1159 156h2v1h-2zM1143 155h16v1h-16z" fill="#FF00FF"/>
<path d="M5 328h3v1h-3zM586 328h2v1h-2zM652 328h6v1h-6zM8 327h6v1h-6zM584 327h2v1h-2zM658 327h6v1h-6zM1317 327h1v1h-1zM14 326h5v1h-5zM581 326h3v1h-3zM664 326h17v1h-17zM1314 326h3v1h-3zM1318 326h8v1h-8zM19 325h6v1h-6zM579 325h2v1h-2zM681 325h8v1h-8zM1310 325h4v1h-4zM1325 325h1v1h-1zM25 324h6v1h-6zM577 324h2v1h-2zM689 324h7v1h-7zM1309 324h1v1h-1zM1326 324h1v1h-1zM31 323h4v1h-4zM574 323h3v1h-3zM696 323h2v1h-2zM1307 323h2v1h-2zM35 322h5v1h-5zM570 322h4v1h-4zM698 322h2v1h-2zM1306 322h1v1h-1zM1327 322h1v1h-1zM40 321h4v1h-4zM566 321h4v1h-4zM700 321h2v1h-2zM1304 321h2v1h-2zM1327 321h1v1h-1zM44 320h5v1h-5zM563 320h3v1h-3zM702 320h2v1h-2zM1303 320h1v1h-1zM1328 320h1v1h-1zM49 319h5v1h-5zM559 319h4v1h-4zM704 319h2v1h-2zM1301 319h2v1h-2zM1329 319h1v1h-1zM54 318h4v1h-4zM555 318h4v1h-4zM706 318h1v1h-1zM1300 318h1v1h-1zM1330 318h1v1h-1zM58 317h20v1h-20zM215 317h7v1h-7zM550 317h5v1h-5zM707 317h2v1h-2zM1298 317h2v1h-2zM1330 317h1v1h-1zM78 316h4v1h-4zM205 316h10v1h-10zM222 316h2v1h-2zM546 316h4v1h-4zM709 316h1v1h-1zM1297 316h1v1h-1zM1330 316h1v1h-1zM82 315h5v1h-5zM201 315h4v1h-4zM224 315h3v1h-3zM542 315h4v1h-4zM710 315h2v1h-2zM1296 315h1v1h-1zM1331 315h1v1h-1zM87 314h4v1h-4zM196 314h5v1h-5zM227 314h2v1h-2zM539 314h3v1h-3zM712 314h1v1h-1zM1294 314h2v1h-2zM1331 314h1v1h-1zM91 313h5v1h-5zM191 313h5v1h-5zM229 313h3v1h-3zM535 313h4v1h-4zM713 313h1v1h-1zM1293 313h1v1h-1zM1332 313h1v1h-1zM96 312h5v1h-5zM187 312h4v1h-4zM232 312h2v1h-2zM531 312h4v1h-4zM714 312h2v1h-2zM1292 312h1v1h-1zM1332 312h1v1h-1zM101 311h9v1h-9zM183 311h4v1h-4zM234 311h3v1h-3zM518 311h13v1h-13zM716 311h2v1h-2zM1290 311h2v1h-2zM1333 311h1v1h-1zM110 310h9v1h-9zM178 310h5v1h-5zM237 310h2v1h-2zM505 310h13v1h-13zM718 310h2v1h-2zM1289 310h1v1h-1zM119 309h10v1h-10zM171 309h7v1h-7zM239 309h3v1h-3zM495 309h10v1h-10zM720 309h2v1h-2zM1288 309h1v1h-1zM129 308h11v1h-11zM161 308h10v1h-10zM242 308h2v1h-2zM487 308h8v1h-8zM722 308h2v1h-2zM1286 308h2v1h-2zM140 307h21v1h-21zM244 307h2v1h-2zM481 307h6v1h-6zM724 307h2v1h-2zM1285 307h1v1h-1zM246 306h2v1h-2zM479 306h2v1h-2zM726 306h1v1h-1zM1283 306h2v1h-2zM248 305h1v1h-1zM476 305h3v1h-3zM727 305h1v1h-1zM1282 305h1v1h-1zM249 304h1v1h-1zM474 304h2v1h-2zM728 304h1v1h-1zM1281 304h1v1h-1zM250 303h2v1h-2zM472 303h2v1h-2zM729 303h2v1h-2zM1280 303h1v1h-1zM252 302h1v1h-1zM470 302h2v1h-2zM731 302h1v1h-1zM1279 302h1v1h-1zM253 301h2v1h-2zM469 301h1v1h-1zM732 301h1v1h-1zM1278 301h1v1h-1zM255 300h1v1h-1zM467 300h2v1h-2zM733 300h1v1h-1zM1277 300h1v1h-1zM256 299h3v1h-3zM466 299h1v1h-1zM734 299h2v1h-2zM1276 299h1v1h-1zM259 298h2v1h-2zM465 298h1v1h-1zM736 298h1v1h-1zM1275 298h1v1h-1zM261 297h2v1h-2zM463 297h2v1h-2zM737 297h1v1h-1zM1274 297h1v1h-1zM263 296h2v1h-2zM462 296h1v1h-1zM738 296h1v1h-1zM1273 296h1v1h-1zM265 295h2v1h-2zM460 295h2v1h-2zM739 295h1v1h-1zM1272 295h1v1h-1zM267 294h2v1h-2zM458 294h2v1h-2zM740 294h1v1h-1zM1270 294h2v1h-2zM269 293h2v1h-2zM456 293h2v1h-2zM741 293h1v1h-1zM271 292h2v1h-2zM454 292h2v1h-2zM742 292h1v1h-1zM1269 292h1v1h-1zM273 291h3v1h-3zM452 291h2v1h-2zM743 291h1v1h-1zM1268 291h1v1h-1zM276 290h2v1h-2zM450 290h2v1h-2zM744 290h1v1h-1zM1267 290h1v1h-1zM278 289h2v1h-2zM448 289h2v1h-2zM745 289h1v1h-1zM1266 289h1v1h-1zM280 288h2v1h-2zM445 288h3v1h-3zM746 288h1v1h-1zM1265 288h1v1h-1zM282 287h2v1h-2zM442 287h3v1h-3zM1264 287h1v1h-1zM284 286h2v1h-2zM440 286h2v1h-2zM747 286h1v1h-1zM1263 286h1v1h-1zM286 285h1v1h-1zM437 285h3v1h-3zM748 285h1v1h-1zM1262 285h1v1h-1zM287 284h2v1h-2zM434 284h3v1h-3zM749 284h1v1h-1zM1261 284h1v1h-1zM289 283h1v1h-1zM431 283h3v1h-3zM750 283h1v1h-1zM1260 283h1v1h-1zM290 282h2v1h-2zM428 282h3v1h-3zM751 282h1v1h-1zM1260 282h1v1h-1zM292 281h1v1h-1zM425 281h3v1h-3zM752 281h2v1h-2zM1259 281h1v1h-1zM293 280h2v1h-2zM422 280h3v1h-3zM754 280h2v1h-2zM1258 280h1v1h-1zM295 279h1v1h-1zM419 279h3v1h-3zM756 279h1v1h-1zM1257 279h1v1h-1zM296 278h2v1h-2zM415 278h4v1h-4zM757 278h1v1h-1zM1256 278h1v1h-1zM298 277h1v1h-1zM412 277h3v1h-3zM758 277h1v1h-1zM1255 277h1v1h-1zM299 276h2v1h-2zM407 276h5v1h-5zM759 276h1v1h-1zM1255 276h1v1h-1zM301 275h2v1h-2zM403 275h4v1h-4zM760 275h1v1h-1zM1254 275h1v1h-1zM303 274h2v1h-2zM399 274h4v1h-4zM761 274h1v1h-1zM1253 274h1v1h-1zM305 273h2v1h-2zM341 273h16v1h-16zM394 273h5v1h-5zM762 273h2v1h-2zM1252 273h1v1h-1zM307 272h2v1h-2zM329 272h12v1h-12zM357 272h5v1h-5zM389 272h5v1h-5zM764 272h1v1h-1zM1251 272h1v1h-1zM309 271h4v1h-4zM322 271h7v1h-7zM362 271h8v1h-8zM384 271h5v1h-5zM765 271h1v1h-1zM1250 271h1v1h-1zM313 270h9v1h-9zM370 270h14v1h-14zM766 270h1v1h-1zM1250 270h1v1h-1zM588 329h2v1h-2zM646 329h6v1h-6zM590 330h3v1h-3zM641 330h5v1h-5zM593 331h3v1h-3zM636 331h5v1h-5zM596 332h2v1h-2zM632 332h4v1h-4zM598 333h4v1h-4zM627 333h5v1h-5zM602 334h7v1h-7zM622 334h5v1h-5zM609 335h13v1h-13zM767 269h1v1h-1zM1249 269h1v1h-1zM768 268h1v1h-1zM1247 268h2v1h-2zM769 267h2v1h-2zM1246 267h1v1h-1zM771 266h1v1h-1zM1245 266h1v1h-1zM772 265h2v1h-2zM1244 265h1v1h-1zM774 264h1v1h-1zM1243 264h1v1h-1zM775 263h2v1h-2zM1242 263h1v1h-1zM777 262h1v1h-1zM1241 262h1v1h-1zM778 261h2v1h-2zM1240 261h1v1h-1zM780 260h1v1h-1zM1240 260h1v1h-1zM781 259h2v1h-2zM1239 259h1v1h-1zM783 258h1v1h-1zM1238 258h1v1h-1zM784 257h2v1h-2zM1237 257h1v1h-1zM786 256h1v1h-1zM1236 256h1v1h-1zM787 255h2v1h-2zM1235 255h1v1h-1zM789 254h2v1h-2zM1235 254h1v1h-1zM791 253h2v1h-2zM1234 253h1v1h-1zM793 252h2v1h-2zM1233 252h1v1h-1zM795 251h3v1h-3zM1232 251h1v1h-1zM798 250h2v1h-2zM1231 250h1v1h-1zM800 249h2v1h-2zM1231 249h1v1h-1zM802 248h3v1h-3zM1230 248h1v1h-1zM805 247h2v1h-2zM1229 247h1v1h-1zM807 246h2v1h-2zM1228 246h1v1h-1zM809 245h3v1h-3zM1228 245h1v1h-1zM812 244h2v1h-2zM1227 244h1v1h-1zM814 243h2v1h-2zM1226 243h1v1h-1zM816 242h3v1h-3zM1225 242h1v1h-1zM819 241h2v1h-2zM1225 241h1v1h-1zM821 240h2v1h-2zM1224 240h1v1h-1zM823 239h3v1h-3zM1223 239h1v1h-1zM826 238h2v1h-2zM1222 238h1v1h-1zM828 237h2v1h-2zM1221 237h1v1h-1zM831 236h2v1h-2zM1220 236h1v1h-1zM833 235h2v1h-2zM1220 235h1v1h-1zM835 234h2v1h-2zM837 233h1v1h-1zM1219 233h1v1h-1zM838 232h2v1h-2zM1218 232h1v1h-1zM840 231h2v1h-2zM1217 231h1v1h-1zM842 230h2v1h-2zM1216 230h1v1h-1zM844 229h2v1h-2zM1215 229h1v1h-1zM846 228h1v1h-1zM1215 228h1v1h-1zM847 227h2v1h-2zM1214 227h1v1h-1zM849 226h2v1h-2zM1213 226h1v1h-1zM851 225h2v1h-2zM1213 225h1v1h-1zM853 224h2v1h-2zM1212 224h1v1h-1zM855 223h1v1h-1zM1211 223h1v1h-1zM856 222h2v1h-2zM1211 222h1v1h-1zM858 221h2v1h-2zM1210 221h1v1h-1zM860 220h2v1h-2zM1209 220h1v1h-1zM862 219h2v1h-2zM1209 219h1v1h-1zM864 218h1v1h-1zM1208 218h1v1h-1zM865 217h2v1h-2zM1207 217h1v1h-1zM867 216h2v1h-2zM1207 216h1v1h-1zM869 215h2v1h-2zM1206 215h1v1h-1zM871 214h2v1h-2zM1205 214h1v1h-1zM873 213h2v1h-2zM1205 213h1v1h-1zM875 212h2v1h-2zM1204 212h1v1h-1zM877 211h2v1h-2zM1203 211h1v1h-1zM879 210h3v1h-3zM1203 210h1v1h-1zM882 209h2v1h-2zM1202 209h1v1h-1zM884 208h2v1h-2zM1202 208h1v1h-1zM886 207h2v1h-2zM1201 207h1v1h-1zM888 206h2v1h-2zM1200 206h1v1h-1zM890 205h3v1h-3zM893 204h2v1h-2zM1200 204h1v1h-1zM895 203h3v1h-3zM1199 203h1v1h-1zM898 202h2v1h-2zM1199 202h1v1h-1zM900 201h3v1h-3zM1198 201h1v1h-1zM903 200h2v1h-2zM1197 200h1v1h-1zM905 199h3v1h-3zM1197 199h1v1h-1zM908 198h2v1h-2zM1196 198h1v1h-1zM910 197h3v1h-3zM1196 197h1v1h-1zM913 196h2v1h-2zM1195 196h1v1h-1zM915 195h2v1h-2zM1195 195h1v1h-1zM917 194h3v1h-3zM1194 194h1v1h-1zM920 193h2v1h-2zM1193 193h1v1h-1zM922 192h2v1h-2zM1193 192h1v1h-1zM924 191h3v1h-3zM1192 191h1v1h-1zM927 190h2v1h-2zM1192 190h1v1h-1zM929 189h2v1h-2zM1191 189h1v1h-1zM931 188h2v1h-2zM1191 188h1v1h-1zM933 187h2v1h-2zM1190 187h1v1h-1zM935 186h2v1h-2zM1189 186h1v1h-1zM937 185h2v1h-2zM1189 185h1v1h-1zM939 184h2v1h-2zM1188 184h1v1h-1zM941 183h2v1h-2zM1188 183h1v1h-1zM943 182h2v1h-2zM1187 182h1v1h-1zM945 181h2v1h-2zM1187 181h1v1h-1zM947 180h2v1h-2zM1186 180h1v1h-1zM949 179h2v1h-2zM1186 179h1v1h-1zM951 178h2v1h-2zM1185 178h1v1h-1zM953 177h2v1h-2zM1184 177h1v1h-1zM955 176h2v1h-2zM1184 176h1v1h-1zM957 175h1v1h-1zM1183 175h1v1h-1zM958 174h2v1h-2zM1183 174h1v1h-1zM960 173h2v1h-2zM1182 173h1v1h-1zM962 172h1v1h-1zM1182 172h1v1h-1zM963 171h1v1h-1zM1181 171h1v1h-1zM964 170h2v1h-2zM1180 170h1v1h-1zM966 169h1v1h-1zM1180 169h1v1h-1zM967 168h2v1h-2zM1179 168h1v1h-1zM969 167h1v1h-1zM1179 167h1v1h-1zM970 166h1v1h-1zM1178 166h1v1h-1zM971 165h2v1h-2zM1178 165h1v1h-1zM973 164h1v1h-1zM1177 164h1v1h-1zM974 163h2v1h-2zM1177 163h1v1h-1zM976 162h1v1h-1zM977 161h2v1h-2zM1176 161h1v1h-1zM979 160h1v1h-1zM1175 160h1v1h-1zM980 159h2v1h-2zM1175 159h1v1h-1zM982 158h1v1h-1zM1174 158h1v1h-1zM983 157h2v1h-2zM1174 157h1v1h-1zM985 156h1v1h-1zM1173 156h1v1h-1zM986 155h2v1h-2zM1173 155h1v1h-1zM988 154h1v1h-1zM1172 154h1v1h-1zM989 153h2v1h-2zM1172 153h1v1h-1zM991 152h2v1h-2zM1171 152h1v1h-1zM993 151h1v1h-1zM1171 151h1v1h-1zM994 150h2v1h-2zM1170 150h1v1h-1zM996 149h2v1h-2zM1170 149h1v1h-1zM998 148h2v1h-2zM1169 148h1v1h-1zM1000 147h2v1h-2zM1169 147h1v1h-1zM1002 146h1v1h-1zM1168 146h1v1h-1zM1003 145h2v1h-2zM1168 145h1v1h-1zM1005 144h1v1h-1zM1167 144h1v1h-1zM1006 143h2v1h-2zM1167 143h1v1h-1zM1008 142h1v1h-1zM1167 142h1v1h-1zM1009 141h1v1h-1zM1166 141h1v1h-1zM1010 140h1v1h-1zM1166 140h1v1h-1zM1011 139h2v1h-2zM1165 139h1v1h-1zM1013 138h1v1h-1zM1165 138h1v1h-1zM1014 137h1v1h-1zM1164 137h1v1h-1zM1015 136h2v1h-2zM1164 136h1v1h-1zM1017 135h2v1h-2zM1164 135h1v1h-1zM1019 134h1v1h-1zM1163 134h1v1h-1zM1020 133h2v1h-2zM1163 133h1v1h-1zM1022 132h2v1h-2zM1162 132h1v1h-1zM1024 131h2v1h-2zM1162 131h1v1h-1zM1026 130h2v1h-2zM1028 129h1v1h-1zM1162 129h1v1h-1zM1029 128h2v1h-2zM1161 128h1v1h-1zM1031 127h1v1h-1zM1161 127h1v1h-1zM1032 126h2v1h-2zM1161 126h1v1h-1zM1034 125h1v1h-1zM1160 125h1v1h-1zM1035 124h2v1h-2zM1160 124h1v1h-1zM1037 123h1v1h-1zM1160 123h1v1h-1zM1038 122h1v1h-1zM1159 122h1v1h-1zM1039 121h2v1h-2zM1041 120h2v1h-2zM1158 120h1v1h-1zM1043 119h3v1h-3zM1158 119h1v1h-1zM1046 118h2v1h-2zM1157 118h1v1h-1zM1048 117h3v1h-3zM1156 117h1v1h-1zM1051 116h3v1h-3zM1154 116h2v1h-2zM1054 115h3v1h-3zM1153 115h1v1h-1zM1057 114h3v1h-3zM1151 114h2v1h-2zM1060 113h3v1h-3zM1147 113h3v1h-3zM1063 112h4v1h-4zM1144 112h3v1h-3zM1067 111h12v1h-12zM1132 111h9v1h-9zM1142 111h2v1h-2zM1079 110h16v1h-16zM1129 110h1v1h-1zM1131 110h1v1h-1zM1095 109h6v1h-6zM1126 109h3v1h-3zM1101 108h7v1h-7zM1122 108h4v1h-4zM1108 107h14v1h-14z" fill="#FFA500"/>
<rect x="5" y="174" width="1685" height="1" fill="#778899"/>
<rect x="5" y="91" width="1685" height="2" fill="#FF0000"/>
<rect x="5" y="135" width="1685" height="2" fill="#FF0000"/>
<rect x="4" y="133" width="6" height="6" fill="#FF0000"/>
<rect x="6" y="135" width="2" height="2" fill="#fff"/>
<rect x="1684" y="133" width="6" height="6" fill="#FF0000"/>
<rect x="1686" y="135" width="2" height="2" fill="#fff"/>
<rect x="5" y="190" width="1685" height="2" fill="#00F97C"/>
<rect x="4" y="188" width="6" height="6" fill="#00F97C"/>
<rect x="6" y="190" width="2" height="2" fill="#fff"/>
<rect x="1684" y="188" width="6" height="6" fill="#00F97C"/>
<rect x="1686" y="190" width="2" height="2" fill="#fff"/>
<rect x="5" y="259" width="1685" height="2" fill="#2F5BDD"/>
<rect x="4" y="257" width="6" height="6" fill="#2F5BDD"/>
<rect x="6" y="259" width="2" height="2" fill="#fff"/>
<rect x="1684" y="257" width="6" height="6" fill="#2F5BDD"/>
<rect x="1686" y="259" width="2" height="2" fill="#fff"/>
<rect x="5" y="350" width="1685" height="2" fill="#2F5BDD"/>
<rect x="4" y="348" width="6" height="6" fill="#2F5BDD"/>
<rect x="6" y="350" width="2" height="2" fill="#fff"/>
<rect x="1684" y="348" width="6" height="6" fill="#2F5BDD"/>
<rect x="1686" y="350" width="2" height="2" fill="#fff"/>
<rect x="589" y="339" width="1" height="18" fill="#00FF00"/>
<rect x="587" y="347" width="5" height="1" fill="#00FF00"/>
<path d="M5 581h1v5h-1zM13 579h1v7h-1zM21 578h1v8h-1zM29 577h1v9h-1zM37 577h1v9h-1zM45 577h1v9h-1zM53 577h1v9h-1zM61 578h1v8h-1zM69 582h1v4h-1zM77 584h1v2h-1zM85 585h1v1h-1zM101 585h1v2h-1zM109 585h1v3h-1zM117 585h1v4h-1zM125 585h1v4h-1zM133 585h1v4h-1zM141 585h1v4h-1zM149 585h1v3h-1zM157 585h1v3h-1zM165 585h1v1h-1zM173 584h1v2h-1zM181 583h1v3h-1zM189 584h1v2h-1zM197 585h1v1h-1zM205 585h1v1h-1zM213 585h1v1h-1zM221 584h1v2h-1zM229 581h1v5h-1zM237 577h1v9h-1zM245 575h1v11h-1zM253 571h1v15h-1zM261 569h1v17h-1zM269 568h1v18h-1zM277 568h1v18h-1zM285 568h1v18h-1zM293 568h1v18h-1zM301 567h1v19h-1zM309 569h1v17h-1zM317 573h1v13h-1zM325 577h1v9h-1zM333 580h1v6h-1zM341 583h1v3h-1zM349 585h1v1h-1zM357 585h1v1h-1zM365 585h1v3h-1zM373 585h1v5h-1zM381 585h1v5h-1zM389 585h1v7h-1zM397 585h1v5h-1zM405 585h1v5h-1zM413 585h1v3h-1zM421 585h1v2h-1zM437 585h1v1h-1zM445 585h1v4h-1zM453 585h1v4h-1zM461 585h1v7h-1zM469 585h1v9h-1zM477 585h1v11h-1zM485 585h1v11h-1zM493 585h1v10h-1zM501 585h1v10h-1zM509 585h1v9h-1zM517 585h1v9h-1zM525 585h1v9h-1zM533 585h1v9h-1zM541 585h1v10h-1zM549 585h1v13h-1zM557 585h1v12h-1zM565 585h1v12h-1zM573 585h1v13h-1zM581 585h1v12h-1zM589 585h1v12h-1zM597 585h1v11h-1zM605 585h1v9h-1zM613 585h1v7h-1zM621 585h1v5h-1zM629 585h1v3h-1zM645 585h1v1h-1zM653 584h1v2h-1zM661 584h1v2h-1zM669 582h1v4h-1zM677 582h1v4h-1zM685 582h1v4h-1zM693 582h1v4h-1zM701 579h1v7h-1zM709 576h1v10h-1zM717 573h1v13h-1zM725 571h1v15h-1zM733 566h1v20h-1zM741 563h1v23h-1zM749 560h1v26h-1zM757 558h1v28h-1zM765 558h1v28h-1zM773 557h1v29h-1zM781 557h1v29h-1zM789 558h1v28h-1zM797 559h1v27h-1zM805 563h1v23h-1zM813 566h1v20h-1zM821 568h1v18h-1zM829 570h1v16h-1zM837 571h1v15h-1zM845 571h1v15h-1zM853 571h1v15h-1zM861 569h1v17h-1zM869 570h1v16h-1zM877 567h1v19h-1zM885 566h1v20h-1zM893 565h1v21h-1zM901 563h1v23h-1zM909 559h1v27h-1zM917 557h1v29h-1zM925 556h1v30h-1zM933 555h1v31h-1zM941 554h1v32h-1zM949 555h1v31h-1zM957 555h1v31h-1zM965 556h1v30h-1zM973 557h1v29h-1zM981 560h1v26h-1zM989 561h1v25h-1zM997 561h1v25h-1zM1005 562h1v24h-1zM1013 563h1v23h-1zM1021 563h1v23h-1zM1029 561h1v25h-1zM1037 561h1v25h-1zM1045 561h1v25h-1zM1053 563h1v23h-1zM1061 565h1v21h-1zM1069 567h1v19h-1zM1077 569h1v17h-1zM1085 570h1v16h-1zM1093 571h1v15h-1zM1101 571h1v15h-1zM1109 571h1v15h-1zM1117 574h1v12h-1zM1125 577h1v9h-1zM1133 581h1v5h-1zM1141 582h1v4h-1zM1149 585h1v1h-1zM1157 585h1v8h-1zM1165 585h1v34h-1zM1173 585h1v55h-1zM1181 585h1v63h-1zM1189 585h1v67h-1zM1197 585h1v67h-1zM1205 585h1v67h-1zM1213 585h1v64h-1zM1221 585h1v59h-1zM1229 585h1v55h-1zM1237 585h1v50h-1zM1245 585h1v47h-1zM1253 585h1v43h-1zM1261 585h1v37h-1zM1269 585h1v31h-1zM1277 585h1v26h-1zM1285 585h1v21h-1zM1293 585h1v17h-1zM1301 585h1v14h-1zM1309 585h1v9h-1zM1317 585h1v6h-1zM1333 580h1v6h-1z" fill="#c0c0c0"/>
<path d="M5 592h2v1h-2zM498 592h2v1h-2zM503 592h3v1h-3zM636 592h3v1h-3zM7 591h1v1h-1zM491 591h3v1h-3zM497 591h1v1h-1zM642 591h3v1h-3zM11 590h2v1h-2zM479 590h3v1h-3zM485 590h3v1h-3zM649 590h3v1h-3zM1173 590h1v1h-1zM13 589h1v1h-1zM420 589h1v1h-1zM463 589h1v1h-1zM467 589h3v1h-3zM473 589h3v1h-3zM655 589h3v1h-3zM1172 589h1v1h-1zM17 588h2v1h-2zM406 588h3v1h-3zM412 588h3v1h-3zM418 588h2v1h-2zM424 588h3v1h-3zM430 588h3v1h-3zM436 588h3v1h-3zM442 588h3v1h-3zM448 588h3v1h-3zM455 588h3v1h-3zM461 588h2v1h-2zM661 588h3v1h-3zM1171 588h1v1h-1zM20 587h1v1h-1zM141 587h1v1h-1zM145 587h3v1h-3zM151 587h3v1h-3zM157 587h3v1h-3zM163 587h3v1h-3zM400 587h3v1h-3zM24 586h3v1h-3zM135 586h1v1h-1zM139 586h2v1h-2zM169 586h3v1h-3zM175 586h3v1h-3zM394 586h3v1h-3zM667 586h3v1h-3zM30 585h1v1h-1zM129 585h1v1h-1zM133 585h2v1h-2zM181 585h3v1h-3zM187 585h3v1h-3zM194 585h3v1h-3zM200 585h3v1h-3zM389 585h2v1h-2zM673 585h3v1h-3zM31 584h2v1h-2zM123 584h1v1h-1zM127 584h2v1h-2zM206 584h3v1h-3zM212 584h3v1h-3zM388 584h1v1h-1zM679 584h2v1h-2zM1167 584h1v1h-1zM36 582h3v1h-3zM111 582h1v1h-1zM115 582h2v1h-2zM224 582h3v1h-3zM230 582h1v1h-1zM382 582h1v1h-1zM692 582h3v1h-3zM698 582h1v1h-1zM1165 582h1v1h-1zM42 580h2v1h-2zM97 580h3v1h-3zM103 580h1v1h-1zM242 580h3v1h-3zM376 580h1v1h-1zM706 580h1v1h-1zM710 580h3v1h-3zM1161 580h1v1h-1zM44 579h1v1h-1zM48 579h1v1h-1zM91 579h3v1h-3zM248 579h3v1h-3zM371 579h2v1h-2zM716 579h3v1h-3zM1160 579h1v1h-1zM49 578h2v1h-2zM54 578h2v1h-2zM84 578h3v1h-3zM254 578h3v1h-3zM370 578h1v1h-1zM722 578h2v1h-2zM1159 578h1v1h-1zM56 577h1v1h-1zM60 577h3v1h-3zM66 577h3v1h-3zM72 577h3v1h-3zM78 577h3v1h-3zM260 577h3v1h-3zM365 577h2v1h-2zM724 577h1v1h-1zM104 581h2v1h-2zM109 581h2v1h-2zM231 581h2v1h-2zM236 581h3v1h-3zM377 581h2v1h-2zM699 581h2v1h-2zM704 581h2v1h-2zM117 583h1v1h-1zM121 583h2v1h-2zM218 583h3v1h-3zM383 583h2v1h-2zM681 583h1v1h-1zM686 583h3v1h-3zM1166 583h1v1h-1zM266 575h3v1h-3zM358 575h3v1h-3zM734 575h2v1h-2zM1153 575h2v1h-2zM272 574h1v1h-1zM352 574h1v1h-1zM354 574h1v1h-1zM736 574h1v1h-1zM1148 574h2v1h-2zM273 573h2v1h-2zM351 573h1v1h-1zM740 573h2v1h-2zM1147 573h1v1h-1zM278 572h2v1h-2zM345 572h3v1h-3zM742 572h1v1h-1zM1141 572h3v1h-3zM280 571h1v1h-1zM340 571h2v1h-2zM746 571h1v1h-1zM1135 571h3v1h-3zM284 570h3v1h-3zM339 570h1v1h-1zM747 570h2v1h-2zM1130 570h2v1h-2zM290 569h3v1h-3zM333 569h3v1h-3zM752 569h1v1h-1zM1125 569h1v1h-1zM1129 569h1v1h-1zM296 568h3v1h-3zM327 568h3v1h-3zM753 568h2v1h-2zM1123 568h2v1h-2zM303 567h3v1h-3zM309 567h3v1h-3zM315 567h3v1h-3zM321 567h3v1h-3zM758 567h2v1h-2zM873 567h3v1h-3zM879 567h3v1h-3zM885 567h3v1h-3zM892 567h2v1h-2zM1116 567h3v1h-3zM364 576h1v1h-1zM728 576h3v1h-3zM1155 576h1v1h-1zM509 593h3v1h-3zM515 593h3v1h-3zM521 593h3v1h-3zM527 593h3v1h-3zM533 593h3v1h-3zM539 593h2v1h-2zM630 593h3v1h-3zM542 594h1v1h-1zM546 594h3v1h-3zM625 594h2v1h-2zM1177 594h1v1h-1zM552 595h3v1h-3zM558 595h3v1h-3zM564 595h3v1h-3zM570 595h3v1h-3zM576 595h3v1h-3zM582 595h3v1h-3zM618 595h3v1h-3zM624 595h1v1h-1zM1178 595h1v1h-1zM588 596h3v1h-3zM594 596h3v1h-3zM600 596h3v1h-3zM606 596h3v1h-3zM612 596h3v1h-3zM1178 596h1v1h-1zM760 566h1v1h-1zM862 566h2v1h-2zM867 566h3v1h-3zM894 566h1v1h-1zM898 566h3v1h-3zM1110 566h3v1h-3zM764 565h3v1h-3zM855 565h3v1h-3zM861 565h1v1h-1zM904 565h3v1h-3zM1104 565h3v1h-3zM770 564h1v1h-1zM849 564h3v1h-3zM910 564h3v1h-3zM1093 564h2v1h-2zM1098 564h3v1h-3zM771 563h2v1h-2zM844 563h2v1h-2zM916 563h3v1h-3zM1080 563h3v1h-3zM1086 563h3v1h-3zM1092 563h1v1h-1zM776 562h2v1h-2zM839 562h1v1h-1zM843 562h1v1h-1zM922 562h2v1h-2zM1069 562h2v1h-2zM1074 562h3v1h-3zM778 561h1v1h-1zM837 561h2v1h-2zM924 561h1v1h-1zM1062 561h3v1h-3zM1068 561h1v1h-1zM783 560h3v1h-3zM831 560h3v1h-3zM928 560h3v1h-3zM1050 560h3v1h-3zM1056 560h3v1h-3zM789 559h3v1h-3zM821 559h1v1h-1zM825 559h3v1h-3zM934 559h3v1h-3zM1037 559h3v1h-3zM1044 559h3v1h-3zM795 558h3v1h-3zM813 558h3v1h-3zM819 558h2v1h-2zM940 558h3v1h-3zM1025 558h3v1h-3zM1031 558h3v1h-3zM801 557h3v1h-3zM807 557h3v1h-3zM946 557h3v1h-3zM952 557h1v1h-1zM1013 557h3v1h-3zM1019 557h3v1h-3zM953 556h2v1h-2zM958 556h3v1h-3zM1003 556h1v1h-1zM1007 556h3v1h-3zM964 555h3v1h-3zM995 555h3v1h-3zM1001 555h2v1h-2zM970 554h3v1h-3zM976 554h3v1h-3zM982 554h3v1h-3zM988 554h2v1h-2zM991 554h1v1h-1zM1182 600h1v1h-1zM1183 601h1v1h-1zM1184 602h1v1h-1zM1327 602h2v1h-2zM1188 606h1v1h-1zM1321 606h2v1h-2zM1188 607h1v1h-1zM1320 607h1v1h-1zM1189 608h1v1h-1zM1193 612h1v1h-1zM1194 613h1v1h-1zM1308 613h2v1h-2zM1195 614h1v1h-1zM1307 614h1v1h-1zM1199 618h1v1h-1zM1199 619h1v1h-1zM1297 619h1v1h-1zM1200 620h1v1h-1zM1296 620h1v1h-1zM1204 624h1v1h-1zM1289 624h1v1h-1zM1205 625h1v1h-1zM1206 626h1v1h-1zM1285 626h1v1h-1zM1210 629h1v1h-1zM1211 630h1v1h-1zM1278 630h2v1h-2zM1212 631h1v1h-1zM1277 631h1v1h-1zM1216 635h1v1h-1zM1217 636h1v1h-1zM1266 636h2v1h-2zM1218 637h1v1h-1zM1265 637h1v1h-1zM1223 640h1v1h-1zM1259 640h1v1h-1zM1224 641h2v1h-2zM1255 641h1v1h-1zM1229 643h1v1h-1zM1230 644h2v1h-2zM1247 644h3v1h-3zM1235 645h3v1h-3zM1241 645h3v1h-3zM1253 642h2v1h-2zM1260 639h2v1h-2zM1271 634h1v1h-1zM1272 633h2v1h-2zM1283 627h2v1h-2zM1290 623h2v1h-2zM1295 621h1v1h-1zM1301 617h2v1h-2zM1303 616h1v1h-1zM1313 610h2v1h-2zM1315 609h1v1h-1zM1326 603h1v1h-1z" fill="#FF0000"/>
<line x1="5" y1="694.5" x2="1690" y2="694.5" stroke="#c0c0c0" stroke-width="1" stroke-dasharray="3 3"/>
<line x1="5" y1="738.5" x2="1690" y2="738.5" stroke="#c0c0c0" stroke-width="1" stroke-dasharray="3 3"/>
<path d="M5 704h4v1h-4zM221 704h2v1h-2zM280 704h2v1h-2zM289 704h2v1h-2zM304 704h1v1h-1zM697 704h1v1h-1zM798 704h1v1h-1zM848 704h2v1h-2zM866 704h1v1h-1zM873 704h1v1h-1zM974 704h2v1h-2zM988 704h2v1h-2zM1004 704h4v1h-4zM1048 704h1v1h-1zM1098 704h1v1h-1zM1110 704h1v1h-1zM1329 704h2v1h-2zM9 705h3v1h-3zM220 705h1v1h-1zM282 705h2v1h-2zM287 705h2v1h-2zM305 705h1v1h-1zM629 705h2v1h-2zM696 705h1v1h-1zM799 705h1v1h-1zM846 705h2v1h-2zM867 705h1v1h-1zM872 705h1v1h-1zM976 705h1v1h-1zM986 705h2v1h-2zM1049 705h1v1h-1zM1096 705h2v1h-2zM1110 705h1v1h-1zM1327 705h2v1h-2zM12 706h11v1h-11zM219 706h1v1h-1zM284 706h3v1h-3zM305 706h1v1h-1zM627 706h2v1h-2zM631 706h2v1h-2zM675 706h5v1h-5zM696 706h1v1h-1zM800 706h1v1h-1zM843 706h3v1h-3zM867 706h1v1h-1zM871 706h1v1h-1zM977 706h2v1h-2zM985 706h1v1h-1zM1050 706h1v1h-1zM1095 706h1v1h-1zM1111 706h1v1h-1zM1325 706h2v1h-2zM23 707h2v1h-2zM157 707h8v1h-8zM219 707h1v1h-1zM306 707h1v1h-1zM625 707h2v1h-2zM633 707h2v1h-2zM670 707h5v1h-5zM680 707h5v1h-5zM695 707h1v1h-1zM800 707h1v1h-1zM840 707h3v1h-3zM868 707h1v1h-1zM870 707h1v1h-1zM979 707h1v1h-1zM983 707h2v1h-2zM1050 707h1v1h-1zM1094 707h1v1h-1zM1111 707h1v1h-1zM1324 707h1v1h-1zM25 708h2v1h-2zM155 708h2v1h-2zM165 708h8v1h-8zM218 708h1v1h-1zM307 708h1v1h-1zM421 708h1v1h-1zM624 708h1v1h-1zM635 708h2v1h-2zM659 708h11v1h-11zM685 708h2v1h-2zM695 708h1v1h-1zM801 708h1v1h-1zM838 708h2v1h-2zM868 708h2v1h-2zM980 708h1v1h-1zM982 708h1v1h-1zM1051 708h1v1h-1zM1070 708h13v1h-13zM1088 708h6v1h-6zM1112 708h1v1h-1zM1322 708h2v1h-2zM27 709h2v1h-2zM42 709h11v1h-11zM154 709h1v1h-1zM173 709h3v1h-3zM218 709h1v1h-1zM307 709h1v1h-1zM419 709h2v1h-2zM422 709h1v1h-1zM622 709h2v1h-2zM637 709h16v1h-16zM654 709h5v1h-5zM687 709h2v1h-2zM694 709h1v1h-1zM801 709h1v1h-1zM824 709h14v1h-14zM869 709h1v1h-1zM981 709h1v1h-1zM1052 709h1v1h-1zM1056 709h14v1h-14zM1083 709h5v1h-5zM1112 709h1v1h-1zM1321 709h1v1h-1zM29 710h6v1h-6zM39 710h3v1h-3zM53 710h2v1h-2zM152 710h2v1h-2zM176 710h2v1h-2zM217 710h1v1h-1zM308 710h1v1h-1zM418 710h1v1h-1zM423 710h1v1h-1zM620 710h2v1h-2zM653 710h1v1h-1zM689 710h1v1h-1zM694 710h1v1h-1zM802 710h1v1h-1zM819 710h5v1h-5zM1053 710h3v1h-3zM1113 710h1v1h-1zM1319 710h2v1h-2zM35 711h4v1h-4zM55 711h1v1h-1zM150 711h2v1h-2zM178 711h2v1h-2zM309 711h1v1h-1zM416 711h2v1h-2zM424 711h1v1h-1zM618 711h2v1h-2zM690 711h2v1h-2zM693 711h1v1h-1zM803 711h1v1h-1zM814 711h5v1h-5zM1113 711h1v1h-1zM1318 711h1v1h-1zM56 712h1v1h-1zM149 712h1v1h-1zM180 712h2v1h-2zM217 712h1v1h-1zM310 712h1v1h-1zM414 712h2v1h-2zM425 712h1v1h-1zM615 712h3v1h-3zM692 712h1v1h-1zM803 712h1v1h-1zM811 712h3v1h-3zM1113 712h1v1h-1zM1308 712h10v1h-10zM57 713h1v1h-1zM148 713h1v1h-1zM182 713h1v1h-1zM216 713h1v1h-1zM311 713h1v1h-1zM413 713h1v1h-1zM426 713h1v1h-1zM613 713h2v1h-2zM693 713h1v1h-1zM808 713h3v1h-3zM1114 713h1v1h-1zM1306 713h2v1h-2zM58 714h1v1h-1zM147 714h1v1h-1zM183 714h2v1h-2zM215 714h1v1h-1zM312 714h1v1h-1zM411 714h2v1h-2zM427 714h1v1h-1zM612 714h1v1h-1zM804 714h1v1h-1zM806 714h2v1h-2zM1114 714h1v1h-1zM1282 714h7v1h-7zM1304 714h2v1h-2zM59 715h1v1h-1zM146 715h1v1h-1zM185 715h1v1h-1zM215 715h1v1h-1zM313 715h1v1h-1zM410 715h1v1h-1zM428 715h1v1h-1zM610 715h2v1h-2zM805 715h1v1h-1zM1278 715h4v1h-4zM1289 715h4v1h-4zM1302 715h2v1h-2zM60 716h1v1h-1zM145 716h1v1h-1zM186 716h1v1h-1zM214 716h1v1h-1zM314 716h1v1h-1zM409 716h1v1h-1zM429 716h2v1h-2zM609 716h1v1h-1zM1115 716h1v1h-1zM1274 716h4v1h-4zM1293 716h9v1h-9zM61 717h1v1h-1zM144 717h1v1h-1zM187 717h1v1h-1zM214 717h1v1h-1zM407 717h2v1h-2zM431 717h2v1h-2zM608 717h1v1h-1zM1115 717h1v1h-1zM1270 717h4v1h-4zM62 718h1v1h-1zM188 718h1v1h-1zM204 718h7v1h-7zM213 718h1v1h-1zM315 718h1v1h-1zM397 718h7v1h-7zM406 718h1v1h-1zM433 718h2v1h-2zM606 718h2v1h-2zM1116 718h1v1h-1zM1141 718h1v1h-1zM1261 718h9v1h-9zM63 719h1v1h-1zM100 719h4v1h-4zM143 719h1v1h-1zM189 719h7v1h-7zM199 719h5v1h-5zM211 719h3v1h-3zM316 719h1v1h-1zM396 719h1v1h-1zM404 719h2v1h-2zM435 719h2v1h-2zM605 719h1v1h-1zM1116 719h1v1h-1zM1140 719h2v1h-2zM1258 719h3v1h-3zM64 720h1v1h-1zM98 720h2v1h-2zM104 720h2v1h-2zM132 720h8v1h-8zM142 720h1v1h-1zM196 720h3v1h-3zM317 720h2v1h-2zM395 720h1v1h-1zM437 720h2v1h-2zM506 720h7v1h-7zM602 720h3v1h-3zM1117 720h3v1h-3zM1139 720h1v1h-1zM1142 720h1v1h-1zM1256 720h2v1h-2zM65 721h1v1h-1zM76 721h8v1h-8zM96 721h2v1h-2zM106 721h3v1h-3zM130 721h2v1h-2zM140 721h2v1h-2zM319 721h2v1h-2zM394 721h1v1h-1zM439 721h2v1h-2zM502 721h4v1h-4zM513 721h4v1h-4zM600 721h2v1h-2zM1120 721h2v1h-2zM1137 721h2v1h-2zM1142 721h1v1h-1zM1254 721h2v1h-2zM66 722h1v1h-1zM74 722h2v1h-2zM84 722h8v1h-8zM94 722h2v1h-2zM109 722h11v1h-11zM128 722h2v1h-2zM321 722h2v1h-2zM394 722h1v1h-1zM441 722h2v1h-2zM498 722h4v1h-4zM517 722h7v1h-7zM598 722h2v1h-2zM1122 722h3v1h-3zM1136 722h1v1h-1zM1143 722h1v1h-1zM1235 722h6v1h-6zM1250 722h4v1h-4zM67 723h1v1h-1zM72 723h2v1h-2zM92 723h2v1h-2zM120 723h3v1h-3zM127 723h1v1h-1zM323 723h2v1h-2zM378 723h5v1h-5zM393 723h1v1h-1zM443 723h2v1h-2zM494 723h4v1h-4zM524 723h8v1h-8zM580 723h4v1h-4zM595 723h3v1h-3zM1125 723h4v1h-4zM1135 723h1v1h-1zM1143 723h1v1h-1zM1220 723h5v1h-5zM1233 723h2v1h-2zM1241 723h4v1h-4zM1246 723h4v1h-4zM68 724h1v1h-1zM70 724h2v1h-2zM123 724h4v1h-4zM325 724h4v1h-4zM343 724h21v1h-21zM374 724h4v1h-4zM383 724h1v1h-1zM392 724h1v1h-1zM445 724h9v1h-9zM484 724h10v1h-10zM532 724h2v1h-2zM578 724h2v1h-2zM584 724h2v1h-2zM593 724h2v1h-2zM1129 724h4v1h-4zM1134 724h1v1h-1zM1144 724h1v1h-1zM1218 724h2v1h-2zM1225 724h4v1h-4zM1230 724h3v1h-3zM1245 724h1v1h-1zM69 725h1v1h-1zM329 725h4v1h-4zM335 725h8v1h-8zM364 725h10v1h-10zM384 725h1v1h-1zM391 725h1v1h-1zM454 725h2v1h-2zM482 725h2v1h-2zM533 725h1v1h-1zM576 725h2v1h-2zM586 725h3v1h-3zM590 725h3v1h-3zM1133 725h1v1h-1zM1145 725h1v1h-1zM1217 725h1v1h-1zM1229 725h1v1h-1zM223 703h3v1h-3zM278 703h2v1h-2zM291 703h2v1h-2zM303 703h1v1h-1zM697 703h1v1h-1zM798 703h1v1h-1zM850 703h2v1h-2zM866 703h1v1h-1zM873 703h1v1h-1zM949 703h1v1h-1zM973 703h1v1h-1zM990 703h5v1h-5zM1000 703h4v1h-4zM1008 703h6v1h-6zM1047 703h1v1h-1zM1099 703h2v1h-2zM1109 703h1v1h-1zM1331 703h3v1h-3zM226 702h2v1h-2zM276 702h2v1h-2zM293 702h2v1h-2zM303 702h1v1h-1zM698 702h1v1h-1zM797 702h1v1h-1zM852 702h2v1h-2zM865 702h1v1h-1zM874 702h1v1h-1zM950 702h2v1h-2zM971 702h2v1h-2zM995 702h5v1h-5zM1014 702h4v1h-4zM1047 702h1v1h-1zM1101 702h4v1h-4zM1109 702h1v1h-1zM228 701h3v1h-3zM274 701h2v1h-2zM295 701h3v1h-3zM302 701h1v1h-1zM698 701h1v1h-1zM797 701h1v1h-1zM865 701h1v1h-1zM875 701h1v1h-1zM948 701h1v1h-1zM952 701h2v1h-2zM969 701h2v1h-2zM1018 701h4v1h-4zM1046 701h1v1h-1zM1105 701h5v1h-5zM231 700h2v1h-2zM272 700h2v1h-2zM298 700h2v1h-2zM301 700h1v1h-1zM699 700h1v1h-1zM795 700h2v1h-2zM854 700h1v1h-1zM864 700h1v1h-1zM876 700h1v1h-1zM947 700h1v1h-1zM954 700h2v1h-2zM967 700h2v1h-2zM1022 700h1v1h-1zM1045 700h1v1h-1zM233 699h3v1h-3zM271 699h1v1h-1zM300 699h2v1h-2zM699 699h1v1h-1zM794 699h1v1h-1zM855 699h1v1h-1zM864 699h1v1h-1zM877 699h18v1h-18zM946 699h1v1h-1zM956 699h11v1h-11zM1023 699h2v1h-2zM1044 699h2v1h-2zM236 698h10v1h-10zM261 698h10v1h-10zM700 698h1v1h-1zM792 698h2v1h-2zM856 698h1v1h-1zM863 698h1v1h-1zM895 698h2v1h-2zM946 698h1v1h-1zM1025 698h2v1h-2zM1042 698h2v1h-2zM246 697h1v1h-1zM260 697h1v1h-1zM701 697h1v1h-1zM790 697h2v1h-2zM857 697h1v1h-1zM863 697h1v1h-1zM897 697h3v1h-3zM945 697h1v1h-1zM1027 697h1v1h-1zM1039 697h3v1h-3zM247 696h1v1h-1zM259 696h1v1h-1zM702 696h2v1h-2zM789 696h1v1h-1zM858 696h1v1h-1zM862 696h1v1h-1zM900 696h2v1h-2zM944 696h1v1h-1zM1028 696h11v1h-11zM248 695h2v1h-2zM257 695h2v1h-2zM704 695h1v1h-1zM788 695h1v1h-1zM859 695h1v1h-1zM862 695h1v1h-1zM902 695h1v1h-1zM943 695h1v1h-1zM250 694h1v1h-1zM256 694h1v1h-1zM705 694h2v1h-2zM716 694h2v1h-2zM787 694h1v1h-1zM860 694h2v1h-2zM903 694h2v1h-2zM925 694h9v1h-9zM943 694h1v1h-1zM251 693h2v1h-2zM254 693h2v1h-2zM707 693h1v1h-1zM712 693h4v1h-4zM718 693h3v1h-3zM786 693h1v1h-1zM861 693h1v1h-1zM905 693h1v1h-1zM922 693h3v1h-3zM934 693h3v1h-3zM942 693h1v1h-1zM253 692h1v1h-1zM708 692h4v1h-4zM721 692h3v1h-3zM785 692h1v1h-1zM906 692h1v1h-1zM919 692h3v1h-3zM937 692h3v1h-3zM941 692h1v1h-1zM333 726h2v1h-2zM385 726h1v1h-1zM391 726h1v1h-1zM456 726h1v1h-1zM479 726h3v1h-3zM534 726h1v1h-1zM574 726h2v1h-2zM589 726h1v1h-1zM1215 726h2v1h-2zM386 727h2v1h-2zM390 727h1v1h-1zM457 727h1v1h-1zM477 727h2v1h-2zM535 727h1v1h-1zM571 727h3v1h-3zM1145 727h1v1h-1zM1213 727h2v1h-2zM388 728h2v1h-2zM458 728h1v1h-1zM476 728h1v1h-1zM536 728h1v1h-1zM557 728h4v1h-4zM567 728h4v1h-4zM1146 728h1v1h-1zM1211 728h2v1h-2zM389 729h1v1h-1zM459 729h2v1h-2zM474 729h2v1h-2zM537 729h1v1h-1zM556 729h1v1h-1zM561 729h6v1h-6zM1146 729h1v1h-1zM1210 729h1v1h-1zM461 730h1v1h-1zM473 730h1v1h-1zM537 730h1v1h-1zM554 730h2v1h-2zM1147 730h1v1h-1zM1208 730h2v1h-2zM462 731h4v1h-4zM471 731h2v1h-2zM538 731h1v1h-1zM553 731h1v1h-1zM1147 731h1v1h-1zM1196 731h7v1h-7zM1206 731h2v1h-2zM466 732h3v1h-3zM470 732h1v1h-1zM539 732h1v1h-1zM551 732h2v1h-2zM1148 732h1v1h-1zM1195 732h1v1h-1zM1203 732h3v1h-3zM469 733h1v1h-1zM540 733h1v1h-1zM550 733h1v1h-1zM1149 733h2v1h-2zM1193 733h2v1h-2zM541 734h9v1h-9zM1151 734h1v1h-1zM1192 734h1v1h-1zM724 691h2v1h-2zM784 691h1v1h-1zM907 691h2v1h-2zM915 691h4v1h-4zM940 691h2v1h-2zM726 690h1v1h-1zM757 690h10v1h-10zM783 690h1v1h-1zM909 690h6v1h-6zM727 689h1v1h-1zM756 689h1v1h-1zM767 689h6v1h-6zM782 689h1v1h-1zM728 688h1v1h-1zM755 688h1v1h-1zM773 688h5v1h-5zM781 688h1v1h-1zM729 687h1v1h-1zM754 687h1v1h-1zM778 687h4v1h-4zM730 686h1v1h-1zM752 686h2v1h-2zM731 685h2v1h-2zM751 685h1v1h-1zM733 684h11v1h-11zM750 684h1v1h-1zM744 683h6v1h-6zM1152 735h1v1h-1zM1190 735h2v1h-2zM1153 736h2v1h-2zM1188 736h2v1h-2zM1155 737h1v1h-1zM1186 737h2v1h-2zM1156 738h2v1h-2zM1183 738h3v1h-3zM1157 739h1v1h-1zM1181 739h2v1h-2zM1157 740h1v1h-1zM1180 740h1v1h-1zM1158 741h1v1h-1zM1180 741h1v1h-1zM1158 742h1v1h-1zM1179 742h1v1h-1zM1159 743h1v1h-1zM1179 743h1v1h-1zM1159 745h1v1h-1zM1160 746h1v1h-1zM1178 746h1v1h-1zM1160 747h1v1h-1zM1177 747h1v1h-1zM1161 748h1v1h-1zM1177 748h1v1h-1zM1161 749h1v1h-1zM1176 749h1v1h-1zM1161 750h1v1h-1zM1176 750h1v1h-1zM1162 751h1v1h-1zM1175 751h1v1h-1zM1162 752h1v1h-1zM1175 752h1v1h-1zM1163 753h1v1h-1zM1174 753h1v1h-1zM1163 754h1v1h-1zM1174 754h1v1h-1zM1164 755h1v1h-1zM1173 755h1v1h-1zM1164 756h1v1h-1zM1173 756h1v1h-1zM1165 757h9v1h-9zM1178 744h1v1h-1z" fill="#1E90FF"/>
<rect x="1691" y="45" width="2" height="1" fill="#000"/>
<text x="1696" y="49" font-size="9.78" fill="#000" stroke="#000" stroke-width="0.2" textLength="28" lengthAdjust="spacingAndGlyphs">4254.0</text>
<rect x="1691" y="78" width="2" height="1" fill="#000"/>
<text x="1696" y="82" font-size="9.78" fill="#000" stroke="#000" stroke-width="0.2" textLength="28" lengthAdjust="spacingAndGlyphs">4209.0</text>
<rect x="1691" y="111" width="2" height="1" fill="#000"/>
<text x="1696" y="115" font-size="9.78" fill="#000" stroke="#000" stroke-width="0.2" textLength="28" lengthAdjust="spacingAndGlyphs">4164.0</text>
<rect x="1691" y="144" width="2" height="1" fill="#000"/>
<text x="1696" y="148" font-size="9.78" fill="#000" stroke="#000" stroke-width="0.2" textLength="28" lengthAdjust="spacingAndGlyphs">4119.0</text>
<rect x="1691" y="177" width="2" height="1" fill="#000"/>
<text x="1696" y="181" font-size="9.78" fill="#000" stroke="#000" stroke-width="0.2" textLength="28" lengthAdjust="spacingAndGlyphs">4073.0</text>
<rect x="1691" y="210" width="2" height="1" fill="#000"/>
<text x="1696" y="214" font-size="9.78" fill="#000" stroke="#000" stroke-width="0.2" textLength="28" lengthAdjust="spacingAndGlyphs">4028.0</text>
<rect x="1691" y="243" width="2" height="1" fill="#000"/>
<text x="1696" y="247" font-size="9.78" fill="#000" stroke="#000" stroke-width="0.2" textLength="28" lengthAdjust="spacingAndGlyphs">3983.0</text>
<rect x="1691" y="276" width="2" height="1" fill="#000"/>
<text x="1696" y="280" font-size="9.78" fill="#000" stroke="#000" stroke-width="0.2" textLength="28" lengthAdjust="spacingAndGlyphs">3938.0</text>
<rect x="1691" y="309" width="2" height="1" fill="#000"/>
<text x="1696" y="313" font-size="9.78" fill="#000" stroke="#000" stroke-width="0.2" textLength="28" lengthAdjust="spacingAndGlyphs">3893.0</text>
<rect x="1691" y="342" width="2" height="1" fill="#000"/>
<text x="1696" y="346" font-size="9.78" fill="#000" stroke="#000" stroke-width="0.2" textLength="28" lengthAdjust="spacingAndGlyphs">3847.0</text>
<rect x="1691" y="375" width="2" height="1" fill="#000"/>
<text x="1696" y="379" font-size="9.78" fill="#000" stroke="#000" stroke-width="0.2" textLength="28" lengthAdjust="spacingAndGlyphs">3802.0</text>
<rect x="1691" y="408" width="2" height="1" fill="#000"/>
<text x="1696" y="412" font-size="9.78" fill="#000" stroke="#000" stroke-width="0.2" textLength="28" lengthAdjust="spacingAndGlyphs">3757.0</text>
<rect x="1691" y="441" width="2" height="1" fill="#000"/>
<text x="1696" y="445" font-size="9.78" fill="#000" stroke="#000" stroke-width="0.2" textLength="28" lengthAdjust="spacingAndGlyphs">3712.0</text>
<rect x="1691" y="474" width="2" height="1" fill="#000"/>
<text x="1696" y="478" font-size="9.78" fill="#000" stroke="#000" stroke-width="0.2" textLength="28" lengthAdjust="spacingAndGlyphs">3667.0</text>
<rect x="1691" y="507" width="2" height="1" fill="#000"/>
<text x="1696" y="511" font-size="9.78" fill="#000" stroke="#000" stroke-width="0.2" textLength="28" lengthAdjust="spacingAndGlyphs">3621.0</text>
<rect x="1691" y="540" width="2" height="1" fill="#000"/>
<text x="1696" y="544" font-size="9.78" fill="#000" stroke="#000" stroke-width="0.2" textLength="28" lengthAdjust="spacingAndGlyphs">3576.0</text>
<rect x="1692" y="86" width="36" height="11" fill="#FF0000"/>
<text x="1696" y="95" font-size="9.78" fill="#fff" stroke="#fff" stroke-width="0.2" textLength="28" lengthAdjust="spacingAndGlyphs">4190.0</text>
<rect x="1692" y="130" width="36" height="11" fill="#FF0000"/>
<text x="1696" y="139" font-size="9.78" fill="#fff" stroke="#fff" stroke-width="0.2" textLength="28" lengthAdjust="spacingAndGlyphs">4130.0</text>
<rect x="1692" y="169" width="36" height="11" fill="#000"/>
<text x="1696" y="178" font-size="9.78" fill="#fff" stroke="#fff" stroke-width="0.2" textLength="28" lengthAdjust="spacingAndGlyphs">4077.0</text>
<rect x="1692" y="185" width="36" height="11" fill="#00F97C"/>
<text x="1696" y="194" font-size="9.78" fill="#fff" stroke="#fff" stroke-width="0.2" textLength="28" lengthAdjust="spacingAndGlyphs">4055.0</text>
<rect x="1692" y="254" width="36" height="11" fill="#2F5BDD"/>
<text x="1696" y="263" font-size="9.78" fill="#fff" stroke="#fff" stroke-width="0.2" textLength="28" lengthAdjust="spacingAndGlyphs">3960.0</text>
<rect x="1692" y="345" width="36" height="11" fill="#2F5BDD"/>
<text x="1696" y="354" font-size="9.78" fill="#fff" stroke="#fff" stroke-width="0.2" textLength="28" lengthAdjust="spacingAndGlyphs">3835.0</text>
<rect x="1691" y="547" width="1" height="1" fill="#000"/>
<text x="1694" y="556" font-size="9.78" fill="#000" stroke="#000" stroke-width="0.2" textLength="17.5" lengthAdjust="spacingAndGlyphs">57.1</text>
<rect x="1691" y="585" width="2" height="1" fill="#000"/>
<text x="1694" y="589" font-size="9.78" fill="#000" stroke="#000" stroke-width="0.2" textLength="18" lengthAdjust="spacingAndGlyphs">0.00</text>
<rect x="1691" y="657" width="1" height="1" fill="#000"/>
<text x="1694" y="655" font-size="9.78" fill="#000" stroke="#000" stroke-width="0.2" textLength="31" lengthAdjust="spacingAndGlyphs">-109.43</text>
<text x="1694.5" y="671" font-size="9.78" fill="#000" stroke="#000" stroke-width="0.2" textLength="14.5" lengthAdjust="spacingAndGlyphs">100</text>
<rect x="1691" y="662" width="1" height="1" fill="#000"/>
<rect x="1691" y="694" width="1" height="1" fill="#000"/>
<text x="1694" y="698" font-size="9.78" fill="#000" stroke="#000" stroke-width="0.2" textLength="9.7" lengthAdjust="spacingAndGlyphs">70</text>
<rect x="1691" y="738" width="1" height="1" fill="#000"/>
<text x="1694" y="742" font-size="9.78" fill="#000" stroke="#000" stroke-width="0.2" textLength="9.7" lengthAdjust="spacingAndGlyphs">30</text>
<rect x="1691" y="771" width="1" height="1" fill="#000"/>
<text x="1694" y="769" font-size="9.78" fill="#000" stroke="#000" stroke-width="0.2" textLength="5" lengthAdjust="spacingAndGlyphs">0</text>
<path d="M8 42h7l-3.5 4z" fill="#000"/>
<text x="20.3" y="47" font-size="9.78" fill="#000" stroke="#000" stroke-width="0.2" textLength="191.5" lengthAdjust="spacingAndGlyphs" xml:space="preserve" style="white-space:pre">CHINA300-,H4  4037.3 4081.8 4032.4 4077.0</text>
<text x="9" y="558" font-size="9.78" fill="#000" stroke="#000" stroke-width="0.2" textLength="116" lengthAdjust="spacingAndGlyphs">MACD(12,26,9) 8.54 -20.44</text>
<text x="9" y="673" font-size="9.78" fill="#000" stroke="#000" stroke-width="0.2" textLength="68" lengthAdjust="spacingAndGlyphs">RSI(14) 62.6159</text>
<rect x="1347" y="36" width="9" height="1" fill="#778899"/>
<rect x="1348" y="37" width="7" height="1" fill="#778899"/>
<rect x="1349" y="38" width="5" height="1" fill="#778899"/>
<rect x="1350" y="39" width="3" height="1" fill="#778899"/>
<rect x="1351" y="40" width="1" height="1" fill="#778899"/>
<rect x="5" y="773" width="1" height="3" fill="#000"/>
<text x="4.5" y="785" font-size="9.78" fill="#000" stroke="#000" stroke-width="0.2" textLength="50" lengthAdjust="spacingAndGlyphs">14 Oct 2019</text>
<rect x="69" y="773" width="1" height="3" fill="#000"/>
<text x="68.5" y="785" font-size="9.78" fill="#000" stroke="#000" stroke-width="0.2" textLength="53" lengthAdjust="spacingAndGlyphs">18 Oct 05:00</text>
<rect x="133" y="773" width="1" height="3" fill="#000"/>
<text x="132.5" y="785" font-size="9.78" fill="#000" stroke="#000" stroke-width="0.2" textLength="53" lengthAdjust="spacingAndGlyphs">24 Oct 05:00</text>
<rect x="197" y="773" width="1" height="3" fill="#000"/>
<text x="196.5" y="785" font-size="9.78" fill="#000" stroke="#000" stroke-width="0.2" textLength="53" lengthAdjust="spacingAndGlyphs">30 Oct 05:00</text>
<rect x="261" y="773" width="1" height="3" fill="#000"/>
<text x="260.5" y="785" font-size="9.78" fill="#000" stroke="#000" stroke-width="0.2" textLength="50" lengthAdjust="spacingAndGlyphs">5 Nov 05:00</text>
<rect x="325" y="773" width="1" height="3" fill="#000"/>
<text x="324.5" y="785" font-size="9.78" fill="#000" stroke="#000" stroke-width="0.2" textLength="55" lengthAdjust="spacingAndGlyphs">11 Nov 05:00</text>
<rect x="389" y="773" width="1" height="3" fill="#000"/>
<text x="388.5" y="785" font-size="9.78" fill="#000" stroke="#000" stroke-width="0.2" textLength="55" lengthAdjust="spacingAndGlyphs">15 Nov 05:00</text>
<rect x="453" y="773" width="1" height="3" fill="#000"/>
<text x="452.5" y="785" font-size="9.78" fill="#000" stroke="#000" stroke-width="0.2" textLength="55" lengthAdjust="spacingAndGlyphs">21 Nov 05:00</text>
<rect x="517" y="773" width="1" height="3" fill="#000"/>
<text x="516.5" y="785" font-size="9.78" fill="#000" stroke="#000" stroke-width="0.2" textLength="55" lengthAdjust="spacingAndGlyphs">27 Nov 05:00</text>
<rect x="581" y="773" width="1" height="3" fill="#000"/>
<text x="580.5" y="785" font-size="9.78" fill="#000" stroke="#000" stroke-width="0.2" textLength="49" lengthAdjust="spacingAndGlyphs">3 Dec 05:00</text>
<rect x="645" y="773" width="1" height="3" fill="#000"/>
<text x="644.5" y="785" font-size="9.78" fill="#000" stroke="#000" stroke-width="0.2" textLength="49" lengthAdjust="spacingAndGlyphs">9 Dec 05:00</text>
<rect x="709" y="773" width="1" height="3" fill="#000"/>
<text x="708.5" y="785" font-size="9.78" fill="#000" stroke="#000" stroke-width="0.2" textLength="54" lengthAdjust="spacingAndGlyphs">13 Dec 05:00</text>
<rect x="773" y="773" width="1" height="3" fill="#000"/>
<text x="772.5" y="785" font-size="9.78" fill="#000" stroke="#000" stroke-width="0.2" textLength="54" lengthAdjust="spacingAndGlyphs">19 Dec 05:00</text>
<rect x="837" y="773" width="1" height="3" fill="#000"/>
<text x="836.5" y="785" font-size="9.78" fill="#000" stroke="#000" stroke-width="0.2" textLength="54" lengthAdjust="spacingAndGlyphs">25 Dec 05:00</text>
<rect x="901" y="773" width="1" height="3" fill="#000"/>
<text x="900.5" y="785" font-size="9.78" fill="#000" stroke="#000" stroke-width="0.2" textLength="54" lengthAdjust="spacingAndGlyphs">31 Dec 05:00</text>
<rect x="965" y="773" width="1" height="3" fill="#000"/>
<text x="964.5" y="785" font-size="9.78" fill="#000" stroke="#000" stroke-width="0.2" textLength="48" lengthAdjust="spacingAndGlyphs">7 Jan 05:00</text>
<rect x="1029" y="773" width="1" height="3" fill="#000"/>
<text x="1028.5" y="785" font-size="9.78" fill="#000" stroke="#000" stroke-width="0.2" textLength="53" lengthAdjust="spacingAndGlyphs">13 Jan 05:00</text>
<rect x="1093" y="773" width="1" height="3" fill="#000"/>
<text x="1092.5" y="785" font-size="9.78" fill="#000" stroke="#000" stroke-width="0.2" textLength="53" lengthAdjust="spacingAndGlyphs">17 Jan 05:00</text>
<rect x="1157" y="773" width="1" height="3" fill="#000"/>
<text x="1156.5" y="785" font-size="9.78" fill="#000" stroke="#000" stroke-width="0.2" textLength="53" lengthAdjust="spacingAndGlyphs">23 Jan 05:00</text>
<rect x="1221" y="773" width="1" height="3" fill="#000"/>
<text x="1220.5" y="785" font-size="9.78" fill="#000" stroke="#000" stroke-width="0.2" textLength="49" lengthAdjust="spacingAndGlyphs">6 Feb 05:00</text>
<rect x="1285" y="773" width="1" height="3" fill="#000"/>
<text x="1284.5" y="785" font-size="9.78" fill="#000" stroke="#000" stroke-width="0.2" textLength="54" lengthAdjust="spacingAndGlyphs">12 Feb 05:00</text>
<text x="1324.5" y="452" font-size="32" fill="#FF1A0A" font-family="'Liberation Sans','Noto Sans CJK SC',sans-serif" textLength="235" lengthAdjust="spacingAndGlyphs">多空转折点4055</text>
<g opacity="0.36">
<path d="M646 217h139v39h-139z M642 213v39h139v-39z" fill="#000" fill-rule="evenodd" clip-rule="evenodd" opacity="0.45" filter="url(#bl)" clip-path="url(#tc)"/>
<rect x="642.5" y="213.5" width="138" height="38" fill="#fff" stroke="#6a6a6a" stroke-width="1"/>
<text x="648.4" y="228" font-size="12.5" fill="#5a5e78" textLength="125.4" lengthAdjust="spacingAndGlyphs">Horizontal Line 25728</text>
<text x="648.4" y="245" font-size="12.5" fill="#5a5e78" textLength="37.5" lengthAdjust="spacingAndGlyphs">4055.0</text>
</g>
</svg>
</body></html>
